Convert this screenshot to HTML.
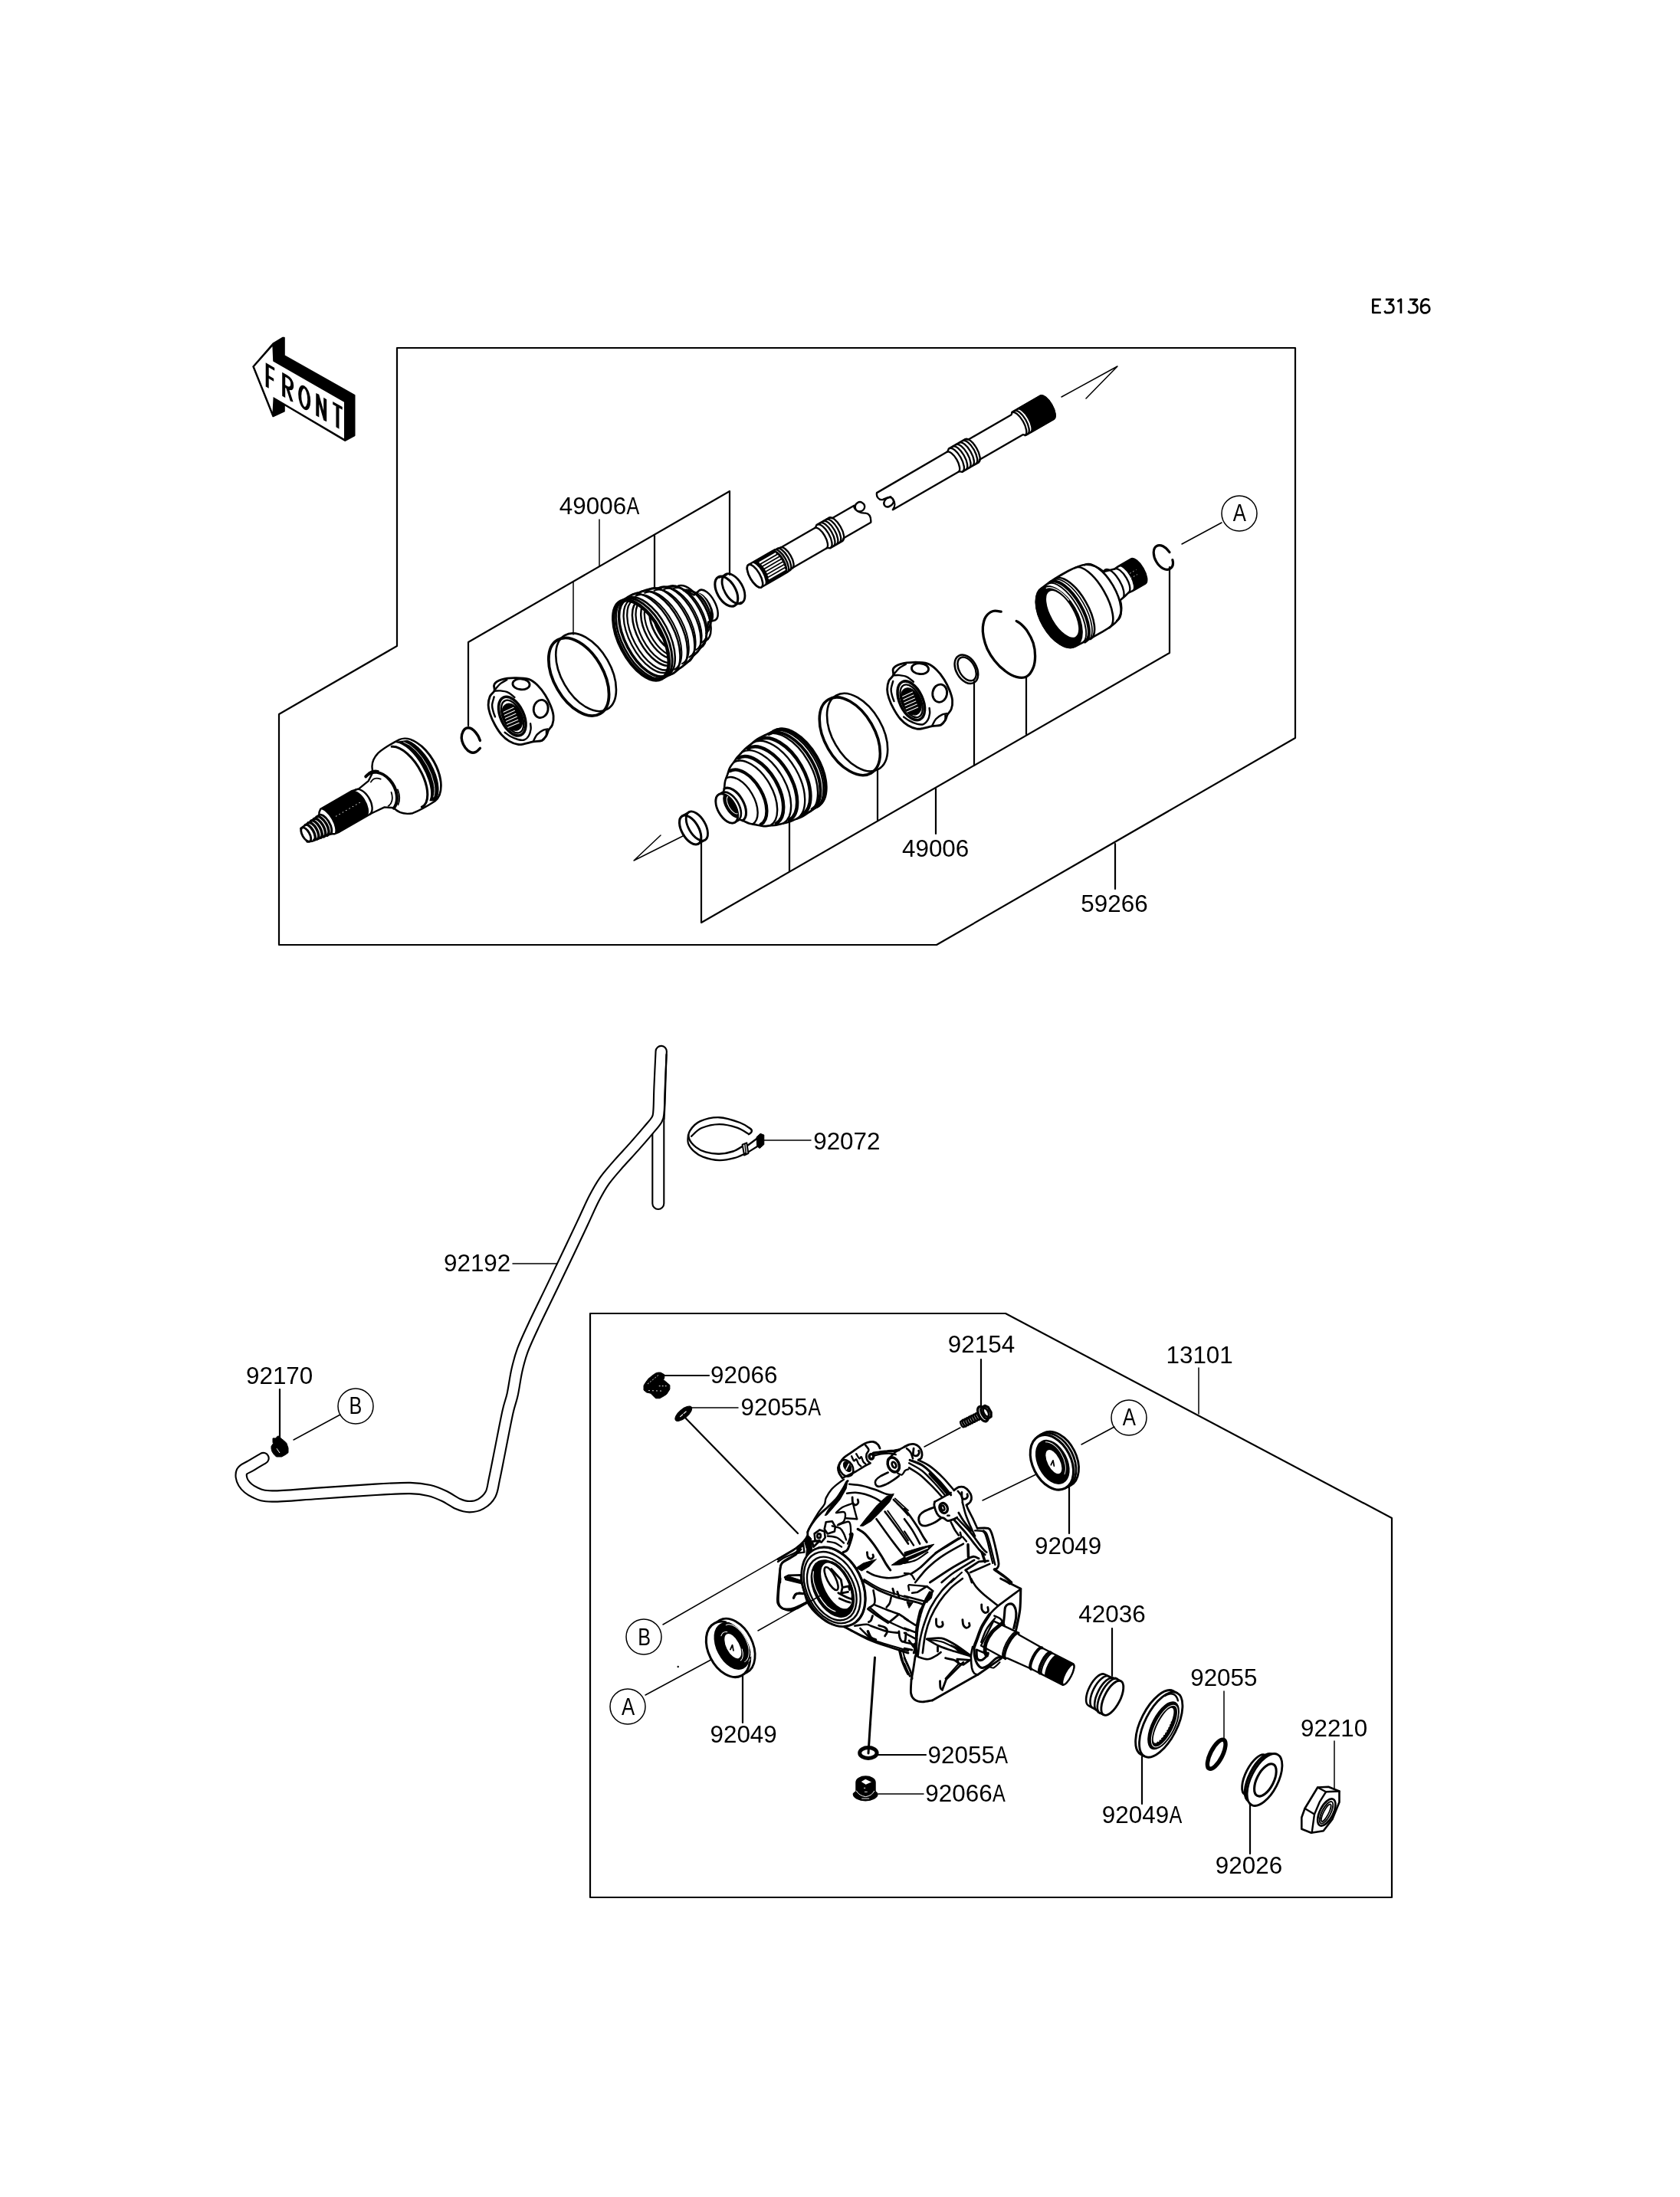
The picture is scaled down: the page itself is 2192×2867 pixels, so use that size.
<!DOCTYPE html>
<html><head><meta charset="utf-8"><title>E3136</title>
<style>
html,body{margin:0;padding:0;background:#fff;}
body{width:2192px;height:2867px;overflow:hidden;}
svg{display:block;will-change:transform;}
text{font-family:"Liberation Sans",sans-serif;font-size:31.4px;fill:#000;}
.l{fill:none;stroke:#000;stroke-width:2.2;stroke-linecap:round;stroke-linejoin:round;}
.t{fill:none;stroke:#000;stroke-width:1.5;stroke-linecap:round;stroke-linejoin:round;}
.h{fill:none;stroke:#000;stroke-width:3;stroke-linecap:round;stroke-linejoin:round;}
.w{fill:#fff;stroke:#000;stroke-width:2;stroke-linecap:round;stroke-linejoin:round;}
.L{stroke-width:2.4;}
.T{stroke-width:1.8;}
.k{fill:#000;stroke:#000;stroke-width:1;stroke-linejoin:round;}
</style></head><body>
<svg width="2192" height="2867" viewBox="0 0 2192 2867">
<rect width="2192" height="2867" fill="#fff"/>
<!-- 00_frame.svg -->
<g id="frame">
<path class="l" d="M518 454H1690V963L1222 1233H364V932L518 843Z"/>
<path class="l" d="M770 1714H1312L1816 1981V2476H770Z"/>
<!-- 49006A bracket -->
<path class="l" d="M611 947V838L952 641V750"/>
<path class="t" d="M782 678V739"/>
<path class="l" d="M854 699V768"/>
<path class="t" d="M748 759V828"/>
<!-- 49006 bracket -->
<path class="l" d="M915 1099V1204L1526 852V740"/>
<path class="l" d="M1030 1073V1137"/>
<path class="l" d="M1145 1005V1070"/>
<path class="l" d="M1271 889V999"/>
<path class="l" d="M1339 883V958"/>
<path class="l" d="M1221 1029V1088"/>
<path class="l" d="M1455 1101V1160"/>
<!-- arrows -->
<path class="t" d="M1385 518L1458 478L1417 520"/>
<path class="t" d="M893 1090L827 1123L862 1090"/>
<!-- A top -->
<circle class="t" cx="1617" cy="670" r="23"/>
<path class="t" d="M1542 710L1594 682"/>
</g>
<g id="labels">
<text x="729.8" y="670.8">49006</text><text transform="translate(817.5 670.8) scale(0.8 1)">A</text>
<text x="1177.0" y="1118.2">49006</text>
<text x="1410.3" y="1189.5">59266</text>
<text x="1061.2" y="1499.5">92072</text>
<text x="579.0" y="1659.4">92192</text>
<text x="321.0" y="1805.8">92170</text>
<text x="1236.8" y="1765.1">92154</text>
<text x="1521.5" y="1778.8">13101</text>
<text x="927.1" y="1805.0">92066</text>
<text x="966.5" y="1847.3">92055</text><text transform="translate(1054.2 1847.3) scale(0.8 1)">A</text>
<text x="1350.0" y="2028.3">92049</text>
<text x="1407.3" y="2117.0">42036</text>
<text x="1553.2" y="2200.3">92055</text>
<text x="1697.0" y="2265.8">92210</text>
<text x="1437.8" y="2379.3">92049</text><text transform="translate(1525.5 2379.3) scale(0.8 1)">A</text>
<text x="1585.8" y="2444.8">92026</text>
<text x="1210.6" y="2300.7">92055</text><text transform="translate(1298.3 2300.7) scale(0.8 1)">A</text>
<text x="1207.3" y="2351.1">92066</text><text transform="translate(1295.0 2351.1) scale(0.8 1)">A</text>
<text x="926.5" y="2274.2">92049</text>
</g>
<g id="leaders">
<path class="t" d="M669 1649H731"/>
<path class="l" d="M365 1813V1879"/>
<circle class="t" cx="464" cy="1835" r="23"/>
<path class="t" d="M383 1879L444 1846"/>
<path class="t" d="M997 1488H1058"/>
<path class="l" d="M1280 1774V1834"/>
<path class="t" d="M1564 1785V1845"/>
<path class="l" d="M861 1795H925"/>
<path class="t" d="M897 1837H963"/>
<path class="l" d="M891 1847L1041 2001"/>
<circle class="t" cx="1473" cy="1850" r="23"/>
<path class="t" d="M1411 1885L1454 1862"/>
<path class="l" d="M1395 1939V2001"/>
<path class="t" d="M1282 1958L1356 1922"/>
<path class="t" d="M1206 1888L1253 1863"/>
<path class="l" d="M1451 2125V2187"/>
<path class="t" d="M1597 2207V2269"/>
<path class="t" d="M1741 2272V2335"/>
<path class="l" d="M1490 2292V2354"/>
<path class="l" d="M1631 2341V2419"/>
<path class="l" d="M1146 2290H1208"/>
<path class="t" d="M1146 2341H1205"/>
<path class="h" d="M1141.5 2163L1135.4 2250"/>
<path class="l" d="M969 2184V2248"/>
<circle class="t" cx="840" cy="2136" r="23"/>
<path class="t" d="M865 2120L1048 2015"/>
<circle class="t" cx="819" cy="2227" r="23"/>
<path class="t" d="M842 2212L935 2162"/>
<path class="t" d="M989 2128L1058 2089"/>
</g>
<!-- 05_code.svg -->
<g id="code">
<path class="l" style="stroke-width:2.7;stroke-linecap:butt;stroke-linejoin:round" d="M1801.8 390.9L1791.4 390.9L1791.4 408.0L1801.8 408.0"/>
<path class="l" style="stroke-width:2.7;stroke-linecap:butt;stroke-linejoin:round" d="M1791.4 399.1L1799.1 399.1"/>
<path class="l" style="stroke-width:2.7;stroke-linecap:butt;stroke-linejoin:round" d="M1807.9 390.9L1817.7 390.9L1811.8 396.6"/>
<path class="l" style="stroke-width:2.7;stroke-linecap:butt;stroke-linejoin:round" d="M1811.8 396.6C1812.4 396.7 1814.7 396.7 1815.7 397.3C1816.8 397.9 1817.6 398.9 1818.0 400.0C1818.4 401.1 1818.5 402.7 1818.2 403.9C1817.9 405.1 1817.2 406.6 1816.3 407.3C1815.4 408.0 1814.2 408.0 1812.9 408.1C1811.5 408.2 1809.3 408.3 1808.2 407.9C1807.1 407.4 1806.7 406.0 1806.4 405.6"/>
<path class="l" style="stroke-width:2.7;stroke-linecap:butt;stroke-linejoin:round" d="M1838.9 390.9L1848.8 390.9L1842.9 396.6"/>
<path class="l" style="stroke-width:2.7;stroke-linecap:butt;stroke-linejoin:round" d="M1842.9 396.6C1843.5 396.7 1845.8 396.7 1846.8 397.3C1847.8 397.9 1848.7 398.9 1849.1 400.0C1849.5 401.1 1849.6 402.7 1849.3 403.9C1849.0 405.1 1848.2 406.6 1847.4 407.3C1846.5 408.0 1845.3 408.0 1843.9 408.1C1842.6 408.2 1840.4 408.3 1839.3 407.9C1838.2 407.4 1837.8 406.0 1837.5 405.6"/>
<path class="l" style="stroke-width:2.7;stroke-linecap:butt;stroke-linejoin:round" d="M1823.4 393.7L1827.9 390.6L1827.9 408.9"/>
<path class="l" style="stroke-width:2.7;stroke-linecap:butt;stroke-linejoin:round" d="M1864.9 392.0C1864.4 391.8 1863.3 390.7 1862.1 390.6C1861.0 390.4 1859.2 390.4 1858.0 391.0C1856.8 391.6 1855.8 392.8 1855.1 394.3C1854.5 395.8 1854.3 398.2 1854.1 400.0C1854.0 401.8 1854.0 403.7 1854.4 405.0C1854.9 406.3 1855.6 407.3 1856.8 407.9C1858.0 408.4 1860.1 408.4 1861.4 408.1C1862.8 407.7 1864.1 406.8 1864.7 405.7C1865.3 404.6 1865.3 402.8 1865.0 401.6C1864.7 400.4 1863.8 399.0 1862.7 398.4C1861.6 397.8 1859.8 397.7 1858.6 398.0C1857.3 398.3 1855.7 400.0 1855.1 400.4"/>
</g>
<!-- 10_front.svg -->
<g id="front">
<path d="M330.3 478.3L356.3 448.3L368.7 440.8H370.8V464.2L462.5 515.8V568.3L450 575L370.8 528V536.7L356.3 543.3Z" fill="#000" stroke="#000" stroke-width="2" stroke-linejoin="round"/>
<path d="M330.8 478.3L356.3 449.5L357.2 470.8L450 524.2V574L357.5 519.7L356.3 542Z" fill="#fff" stroke="#000" stroke-width="2" stroke-linejoin="miter"/>
<g transform="translate(348.7 476.4) skewY(30) scale(1 0.94)" fill="none" stroke="#000" stroke-width="4" stroke-linejoin="miter">
<path d="M0 31V0H9.5M0 15.5H8.5"/>
<path d="M21.5 31V0H26Q32.5 0 32.5 7.5Q32.5 15 26 15H21.5M26 15L32 31"/>
<ellipse cx="48.5" cy="15.5" rx="6" ry="14.5"/>
<path d="M65.6 31V0L75.5 31V0"/>
<path d="M85.5 0H98M91.75 0V31"/>
</g>
</g>
<!-- 20_stub.svg -->
<g id="stub" transform="translate(398.8 1089.3) rotate(-30)">
<!-- silhouette fill white -->
<path class="w L" d="M-1.4 -10.5L28 -13.4L30 -16.6L33.6 -19.4H80L90 -17.2L106 -19.8L117 -27C119 -36 125 -42 135 -45C145 -47 155 -47 168 -46.4A26.7 46.5 0 0 1 168 46.4C155 47 145 47 135 45.5C125 42 119 36 117 27L107 20.3L88.7 18.8H40L33.3 18L28.8 15.5L3 11.5L-3 9Z"/>
<!-- black spline -->
<path d="M33 -19.4H80A10 19.4 0 0 1 82 19H40L33 18A8.8 19.4 0 0 0 33 -19.4Z" fill="#000"/>
<path d="M46 -1H84" stroke="#fff" stroke-width="0.9" stroke-dasharray="1.5 3.5" fill="none"/>
<path class="l L" d="M85 -18.3A10 18.5 0 0 1 86 18.7"/>
<!-- end face -->
<ellipse class="w L" cx="0.5" cy="0" rx="4.7" ry="10.2" style="stroke-width:2.83"/>
<!-- threads -->
<path class="l L" style="stroke-width:3.42" d="M6 -11.3A5 11 0 0 1 6 11.5M10.5 -11.8A5.5 12 0 0 1 10.5 12.5M15 -12.2A5.8 12.6 0 0 1 15 13.3M19.5 -12.6A6 13 0 0 1 19.5 14.2M24 -13A6.2 13.5 0 0 1 24 15"/>
<path class="l L" style="stroke-width:2.83" d="M27.5 -13.4A6.4 14 0 0 1 28.5 15.6"/>
<!-- collar -->
<path class="l L" style="stroke-width:4.01" d="M106 -26.5A20 28 0 0 1 117 27.5"/>
<path class="t T" d="M112 -29A19 27 0 0 1 124 -24.5"/>
<path class="t T" d="M108 -17A13 19 0 0 1 121 -14"/>
<path class="t T" d="M133.5 9A19 26 0 0 1 124 26.5"/>
<path class="t T" d="M124.5 8A13 19 0 0 1 112 21.5"/>
<!-- face arc -->
<path class="l L" style="stroke-width:3.07" d="M154.8 -43.4A21.4 44.5 0 0 1 149.3 44.5"/>
<!-- band -->
<path d="M163 -45.5L176 -40.1A22.4 46 0 0 1 168 45.6L163 42.5A19.6 46 0 0 0 163 -45.5Z" fill="#000" stroke="#000" stroke-width="1.5" stroke-linejoin="round"/>
<path d="M171 -41A21 45 0 0 1 169 41" fill="none" stroke="#fff" stroke-width="0.8"/>
<path class="t T" style="stroke-width:1.53" d="M181 -38A25 46 0 0 1 172 45"/>
</g>
<!-- 30_cage1.svg -->
<g id="cage1">
<path class="l L" style="stroke-width:3.42" d="M626.4 966.4C626.0 965.4 624.9 962.1 623.6 960.0C622.3 957.9 620.4 955.2 618.6 953.6C616.8 951.9 614.9 950.4 612.9 950.0C610.8 949.6 608.1 950.0 606.4 951.4C604.7 952.9 603.2 956.0 602.6 958.6C602.0 961.2 602.1 964.3 602.9 967.1C603.6 970.0 605.4 973.3 607.1 975.7C608.9 978.1 611.3 980.5 613.6 981.4C615.8 982.4 618.6 982.3 620.7 981.4C622.9 980.6 625.5 977.3 626.4 976.4"/>
<path class="w L" style="stroke-width:2.83" d="M645.0 892.9C646.5 890.4 649.9 888.2 654.3 886.9C658.7 885.5 665.5 884.6 671.4 884.6C677.4 884.5 685.0 884.8 690.0 886.4C695.0 888.0 697.9 890.8 701.4 894.3C705.0 897.7 708.6 902.6 711.4 907.1C714.3 911.7 716.8 916.9 718.6 921.4C720.4 926.0 721.8 930.2 722.1 934.3C722.5 938.3 721.8 942.6 720.7 945.7C719.6 948.8 717.0 950.5 715.7 952.9C714.4 955.2 714.3 957.7 712.9 960.0C711.4 962.3 710.0 965.1 707.1 966.4C704.3 967.7 699.5 967.1 695.7 967.9C691.9 968.6 687.6 970.1 684.3 970.7C681.0 971.3 679.0 972.0 675.7 971.4C672.4 970.8 667.9 969.3 664.3 967.1C660.7 965.0 657.4 962.1 654.3 958.6C651.2 955.0 648.2 950.2 645.7 945.7C643.2 941.2 640.7 935.7 639.3 931.4C637.9 927.1 637.1 923.8 637.1 920.0C637.1 916.2 638.0 911.7 639.3 908.6C640.6 905.5 644.0 904.0 645.0 901.4C646.0 898.8 643.5 895.3 645.0 892.9Z"/>
<path class="l L" d="M645.0 901.7C646.3 901.7 649.9 901.1 652.9 901.4C655.8 901.7 659.8 902.1 662.9 903.6C666.0 905.0 670.0 908.9 671.4 910.0"/>
<path class="l L" d="M644.7 909.3C644.3 911.1 642.3 916.8 642.1 920.0C642.0 923.2 642.9 926.0 643.6 928.6C644.2 931.1 645.6 934.3 646.0 935.4"/>
<path class="l L" d="M658.6 955.7C659.8 956.5 662.9 959.2 665.7 960.7C668.6 962.3 672.6 964.2 675.7 965.0C678.8 965.8 681.9 966.3 684.3 965.4C686.7 964.6 688.6 962.3 690.0 960.0C691.4 957.7 692.2 954.0 692.6 951.4C692.9 948.8 692.2 945.5 692.1 944.3"/>
<ellipse class="w L" style="stroke-width:3.54" cx="668.3" cy="934.6" rx="15.0" ry="27.1" transform="rotate(-25 668.3 934.6)"/>
<ellipse class="l L" style="stroke-width:2.36" cx="668.6" cy="935.1" rx="12.1" ry="22.9" transform="rotate(-25 668.6 935.1)"/>
<ellipse class="k" cx="668.3" cy="935.7" rx="12.0" ry="18.6" transform="rotate(-25 668.3 935.7)"/>
<path class="t T" style="stroke:#fff;stroke-width:1.18" d="M657.1 929.3L670.0 923.3"/>
<path class="t T" style="stroke:#fff;stroke-width:1.18" d="M658.3 933.3L671.4 927.3"/>
<path class="t T" style="stroke:#fff;stroke-width:1.18" d="M659.4 937.3L672.9 931.3"/>
<path class="t T" style="stroke:#fff;stroke-width:1.18" d="M660.6 941.3L674.3 935.3"/>
<path class="t T" style="stroke:#fff;stroke-width:1.18" d="M661.7 945.3L675.7 939.3"/>
<path class="t T" style="stroke:#fff;stroke-width:1.18" d="M662.9 949.3L677.1 943.3"/>
<ellipse class="l L" style="stroke-width:2.83" cx="680.0" cy="892.9" rx="11.1" ry="6.9" transform="rotate(5 680.0 892.9)"/>
<ellipse class="l L" style="stroke-width:2.83" cx="705.7" cy="925.0" rx="9.4" ry="11.7" transform="rotate(10 705.7 925.0)"/>
<path class="l L" d="M695.7 967.4C696.5 966.0 698.6 961.0 700.7 958.6C702.9 956.1 706.3 954.0 708.6 952.9C710.9 951.7 713.6 951.7 714.6 951.4"/>
<path class="l L" d="M712.9 953.6C712.8 954.6 713.5 957.9 712.6 960.0C711.6 962.1 708.0 965.4 707.1 966.4"/>
<path class="l L" d="M646.4 899.3C647.5 898.1 650.4 894.2 652.9 892.1C655.4 890.1 660.0 888.0 661.4 887.1"/>
</g>
<!-- 31_band1.svg -->
<g id="band1">
<ellipse class="l L" style="stroke-width:2.60" cx="764.6" cy="877.3" rx="32.2" ry="55.6" transform="rotate(-30 764.6 877.3)"/>
<ellipse class="l L" style="stroke-width:3.78" cx="755.2" cy="883.3" rx="32.2" ry="55.6" transform="rotate(-30 755.2 883.3)"/>
</g>
<!-- 32_boot1.svg -->
<g id="boot1" transform="translate(836.5 835.3) rotate(-27.8) scale(0.94 1)">
<defs><clipPath id="b1c"><ellipse cx="0" cy="0" rx="29.6" ry="57"/></clipPath></defs>
<path class="w L" style="stroke-width:2.60" d="M0.0 -57.0C1.7 -57.1 7.0 -57.4 10.0 -57.6C13.0 -57.7 14.7 -58.3 18.0 -58.0C21.3 -57.7 26.0 -56.7 30.0 -56.0C34.0 -55.3 38.0 -55.0 42.0 -54.0C46.0 -53.0 50.0 -51.3 54.0 -50.0C58.0 -48.7 62.8 -47.2 66.0 -46.0C69.2 -44.8 70.8 -43.8 73.0 -42.8C75.2 -41.8 77.2 -41.5 79.0 -40.0C80.8 -38.5 82.3 -35.7 84.0 -33.5C85.7 -31.3 87.3 -29.2 89.0 -27.0C90.7 -24.8 93.2 -21.2 94.0 -20.0L94 -20L104 -22A11 22 0 0 1 104 22L94 20L94.0 20.0C93.2 21.2 90.7 24.8 89.0 27.0C87.3 29.2 85.7 31.3 84.0 33.5C82.3 35.7 80.8 38.5 79.0 40.0C77.2 41.5 75.2 41.8 73.0 42.8C70.8 43.8 69.2 44.8 66.0 46.0C62.8 47.2 58.0 48.7 54.0 50.0C50.0 51.3 46.0 53.0 42.0 54.0C38.0 55.0 34.0 55.3 30.0 56.0C26.0 56.7 21.3 57.7 18.0 58.0C14.7 58.3 13.0 57.7 10.0 57.6C7.0 57.4 1.7 57.1 0.0 57.0A29.6 57 0 0 1 0 -57Z"/>
<path d="M94 -20L99 -21A11 21.5 0 0 1 99 21.5L94 20A10 20 0 0 0 94 -20Z" fill="#000"/>
<path d="M100.5 -19A9 19 0 0 1 103 10" fill="none" stroke="#fff" stroke-width="1"/>
<path class="l L" style="stroke-width:3.07" d="M5 -57.3A29.8 57.3 0 0 1 5 57.3"/>
<path class="l L" style="stroke-width:2.60" d="M10 -56.6A29.4 56.6 0 0 1 10 56.6"/>
<path class="l L" style="stroke-width:2.60" d="M17 -57.9A30.1 57.9 0 0 1 17 57.9"/>
<path class="l L" style="stroke-width:2.12" d="M22 -54.3A28.3 54.3 0 0 1 22 54.3"/>
<path class="l L" style="stroke-width:2.60" d="M30 -56.0A29.1 56.0 0 0 1 30 56.0"/>
<path class="l L" style="stroke-width:2.12" d="M35 -52.2A27.1 52.2 0 0 1 35 52.2"/>
<path class="l L" style="stroke-width:2.60" d="M43 -53.7A27.9 53.7 0 0 1 43 53.7"/>
<path class="l L" style="stroke-width:2.12" d="M48 -49.0A25.5 49.0 0 0 1 48 49.0"/>
<path class="l L" style="stroke-width:2.60" d="M56 -49.3A25.7 49.3 0 0 1 56 49.3"/>
<path class="l L" style="stroke-width:2.12" d="M61 -44.7A23.2 44.7 0 0 1 61 44.7"/>
<path class="l L" style="stroke-width:2.60" d="M68 -45.1A23.4 45.1 0 0 1 68 45.1"/>
<path class="l L" style="stroke-width:2.12" d="M73 -39.8A20.7 39.8 0 0 1 73 39.8"/>
<path class="l L" style="stroke-width:2.60" d="M79 -40.0A20.8 40.0 0 0 1 79 40.0"/>
<path class="l L" style="stroke-width:2.12" d="M84 -31.5A16.4 31.5 0 0 1 84 31.5"/>
<path class="l L" style="stroke-width:2.60" d="M89 -27.0A14.0 27.0 0 0 1 89 27.0"/>
<g clip-path="url(#b1c)">
<ellipse cx="0" cy="0" rx="29.6" ry="57" fill="#fff"/>
<ellipse cx="50" cy="0" rx="15" ry="29" fill="#000"/>
<path class="l L" style="stroke-width:2.36" d="M44 -33.0A17.2 33.0 0 0 0 44 33.0"/>
<path class="l L" style="stroke-width:2.83" d="M40 -35.0A18.2 35.0 0 0 0 40 35.0"/>
<path class="l L" style="stroke-width:2.36" d="M35 -39.0A20.3 39.0 0 0 0 35 39.0"/>
<path class="l L" style="stroke-width:2.60" d="M31 -41.0A21.3 41.0 0 0 0 31 41.0"/>
<path class="l L" style="stroke-width:2.36" d="M26 -45.0A23.4 45.0 0 0 0 26 45.0"/>
<path class="l L" style="stroke-width:2.60" d="M22 -47.0A24.4 47.0 0 0 0 22 47.0"/>
<path class="l L" style="stroke-width:2.36" d="M17 -51.0A26.5 51.0 0 0 0 17 51.0"/>
<path class="l L" style="stroke-width:2.36" d="M13 -53.0A27.6 53.0 0 0 0 13 53.0"/>
<path class="l L" style="stroke-width:3.78" d="M8 -56.0A29.1 56.0 0 0 0 8 56.0"/>
<path class="l L" style="stroke-width:2.83" d="M4 -57.0A29.6 57.0 0 0 0 4 57.0"/>
</g>
<ellipse cx="0" cy="0" rx="29.6" ry="57" class="l L" style="stroke-width:4.72"/>
</g>
<!-- 34_shaft.svg -->
<g id="ring1">
<ellipse class="l L" style="stroke-width:2.83" cx="957" cy="768.3" rx="12" ry="21.5" transform="rotate(-30 957 768.3)"/>
<ellipse class="w L" style="stroke-width:3.07;fill:none" cx="947.8" cy="771.7" rx="12" ry="21.5" transform="rotate(-30 947.8 771.7)"/>
<path class="l L" d="M938.5 753.5L948 750M958.5 790L967 786"/>
</g>
<g id="shaft" transform="translate(985 751.7) rotate(-30)">
<path class="w L" style="stroke-width:2.36" d="M0 -16.9H37L48 -15.3H100L103 -17.5H122L125 -15H158C156 -13 156 -6 162 -4C168 -3 172 -8 169 -13C167 -17 160 -17 158 -12C156 -8 160 -2 166 1C170 4 170 9 166 15H125L122 17.5H103L100 15.3H48L37 16.9H0A6.6 16.9 0 0 1 0 -16.9Z"/>
<path d="M4 -16.9H37A6.8 16.9 0 0 1 37 16.9H4A6.6 16.9 0 0 0 4 -16.9Z" fill="#000"/>
<path d="M13.6 -12L38.6 -12" stroke="#fff" stroke-width="2.3" fill="none"/>
<path d="M14.8 -8L39.8 -8" stroke="#fff" stroke-width="2.3" fill="none"/>
<path d="M15.4 -4L40.4 -4" stroke="#fff" stroke-width="2.3" fill="none"/>
<path d="M15.6 0L40.6 0" stroke="#fff" stroke-width="2.3" fill="none"/>
<path d="M15.4 4L40.4 4" stroke="#fff" stroke-width="2.3" fill="none"/>
<path d="M14.8 8L39.8 8" stroke="#fff" stroke-width="2.3" fill="none"/>
<path d="M13.6 12L38.6 12" stroke="#fff" stroke-width="2.3" fill="none"/>
<ellipse class="w L" style="stroke-width:2.60" cx="0" cy="0" rx="6.6" ry="16.9"/>
<path class="l L" style="stroke-width:2.36" d="M39 -16.9A6.8 16.9 0 0 1 39 16.9"/>
<path class="l L" style="stroke-width:2.36" d="M43 -16.5A6.6 16.5 0 0 1 43 16.5"/>
<path class="l L" style="stroke-width:2.36" d="M47.5 -15.5A6.2 15.5 0 0 1 47.5 15.5"/>
<path class="l L" style="stroke-width:2.36" d="M104 -17.3A6.9 17.3 0 0 1 104 17.3"/>
<path class="l L" style="stroke-width:2.36" d="M108.5 -17.3A6.9 17.3 0 0 1 108.5 17.3"/>
<path class="l L" style="stroke-width:2.36" d="M113 -17.3A6.9 17.3 0 0 1 113 17.3"/>
<path class="l L" style="stroke-width:2.36" d="M117.5 -17.3A6.9 17.3 0 0 1 117.5 17.3"/>
<path class="l L" style="stroke-width:2.36" d="M122 -17.3A6.9 17.3 0 0 1 122 17.3"/>
<path class="l L" style="stroke-width:2.36" d="M99 -15.3A6.1 15.3 0 0 1 99 15.3"/>
<path class="w L" style="stroke-width:2.36" d="M192 -14.5C189 -11 189 -5 194 -3C199 -2 205 -3 206 2C207 8 204 13 199 15H299L302 17.5H327L330 15H395L398 17.5H440A7 17.5 0 0 0 440 -17.5H398L395 -15H330L327 -17.5H302L299 -15Z"/>
<path class="l L" d="M206 2C207 7 202 10 197 9C192 8 191 3 195 0C198 -2 202 -2 205 -1"/>
<path class="l L" style="stroke-width:2.36" d="M303 -17.3A6.9 17.3 0 0 1 303 17.3"/>
<path class="l L" style="stroke-width:2.36" d="M308 -17.3A6.9 17.3 0 0 1 308 17.3"/>
<path class="l L" style="stroke-width:2.36" d="M313 -17.3A6.9 17.3 0 0 1 313 17.3"/>
<path class="l L" style="stroke-width:2.36" d="M318 -17.3A6.9 17.3 0 0 1 318 17.3"/>
<path class="l L" style="stroke-width:2.36" d="M323 -17.3A6.9 17.3 0 0 1 323 17.3"/>
<path class="l L" style="stroke-width:2.36" d="M327 -17.3A6.9 17.3 0 0 1 327 17.3"/>
<path class="l L" style="stroke-width:2.36" d="M298 -15A6.0 15 0 0 1 298 15"/>
<path class="l L" style="stroke-width:2.36" d="M397 -17.3A6.9 17.3 0 0 1 397 17.3"/>
<path class="l L" style="stroke-width:2.36" d="M401 -17.3A6.9 17.3 0 0 1 401 17.3"/>
<path d="M405 -17.5H440A7 17.5 0 0 1 440 17.5H405A7 17.5 0 0 0 405 -17.5Z" fill="#000" stroke="#000" stroke-width="2"/>
</g>
<!-- 40_boot2.svg -->
<g id="ring2" transform="translate(905 1080.5) rotate(-30)">
<ellipse class="l L" style="stroke-width:2.83" cx="5" cy="0" rx="11" ry="21"/>
<ellipse class="l L" style="stroke-width:3.07" cx="-5" cy="0" rx="11" ry="21"/>
<path class="l L" d="M-5 -21H5M-5 21H5"/>
</g>
<g id="boot2" transform="translate(948.3 1055) rotate(-30)">
<path class="w L" style="stroke-width:2.60" d="M0 -21L7 -21L7.0 -21.0C7.5 -21.5 8.5 -22.2 10.0 -24.0C11.5 -25.8 13.8 -29.7 16.0 -32.0C18.2 -34.3 20.7 -36.0 23.0 -38.0C25.3 -40.0 27.5 -42.4 30.0 -44.0C32.5 -45.6 35.5 -46.6 38.0 -47.7C40.5 -48.9 42.7 -50.1 45.0 -51.0C47.3 -51.9 49.5 -52.4 52.0 -53.1C54.5 -53.9 57.0 -54.9 60.0 -55.5C63.0 -56.1 66.7 -56.5 70.0 -57.0C73.3 -57.5 76.3 -58.4 80.0 -58.5C83.7 -58.6 87.8 -58.0 92.0 -57.8C96.2 -57.5 102.8 -57.1 105.0 -57.0A31 57 0 0 1 105 57L105.0 57.0C102.8 57.1 96.2 57.5 92.0 57.8C87.8 58.0 83.7 58.6 80.0 58.5C76.3 58.4 73.3 57.5 70.0 57.0C66.7 56.5 63.0 56.1 60.0 55.5C57.0 54.9 54.5 53.9 52.0 53.1C49.5 52.4 47.3 51.9 45.0 51.0C42.7 50.1 40.5 48.9 38.0 47.7C35.5 46.6 32.5 45.6 30.0 44.0C27.5 42.4 25.3 40.0 23.0 38.0C20.7 36.0 18.2 34.3 16.0 32.0C13.8 29.7 11.5 25.8 10.0 24.0C8.5 22.2 7.5 21.5 7.0 21.0L0 21A11 21 0 0 1 0 -21Z"/>
<path class="l L" style="stroke-width:2.60" d="M5 -20.7A11.4 20.7 0 0 1 5 20.7"/>
<path class="l L" style="stroke-width:3.07" d="M10 -24.0A13.2 24.0 0 0 1 10 24.0"/>
<path class="l L" style="stroke-width:2.36" d="M19 -34.6A19.0 34.6 0 0 1 19 34.6"/>
<path class="l L" style="stroke-width:4.25" d="M28 -40.3A22.2 40.3 0 0 1 28 40.3"/>
<path class="l L" style="stroke-width:2.36" d="M38 -47.7A26.3 47.7 0 0 1 38 47.7"/>
<path class="l L" style="stroke-width:4.48" d="M46 -49.3A27.1 49.3 0 0 1 46 49.3"/>
<path class="l L" style="stroke-width:2.36" d="M54 -53.7A29.5 53.7 0 0 1 54 53.7"/>
<path class="l L" style="stroke-width:4.48" d="M63 -54.0A29.7 54.0 0 0 1 63 54.0"/>
<path class="l L" style="stroke-width:2.36" d="M72 -57.3A31.5 57.3 0 0 1 72 57.3"/>
<path class="l L" style="stroke-width:4.48" d="M81 -56.4A31.0 56.4 0 0 1 81 56.4"/>
<path class="l L" style="stroke-width:2.36" d="M91 -57.8A31.8 57.8 0 0 1 91 57.8"/>
<path class="l L" style="stroke-width:4.01" d="M96 -56.5A31.1 56.5 0 0 1 96 56.5"/>
<path class="l L" style="stroke-width:2.36" d="M100 -57.3A31.5 57.3 0 0 1 100 57.3"/>
<path class="l L" style="stroke-width:3.54" d="M103 -57.1A31.4 57.1 0 0 1 103 57.1"/>
<ellipse class="w L" style="stroke-width:2.83" cx="0" cy="0" rx="11.5" ry="21"/>
<clipPath id="b2c"><ellipse cx="0" cy="0" rx="11.5" ry="21"/></clipPath>
<g clip-path="url(#b2c)"><ellipse cx="9" cy="0" rx="10" ry="19" fill="#000"/><ellipse cx="9.5" cy="0" rx="6" ry="13" fill="none" stroke="#fff" stroke-width="1"/></g>
</g>
<!-- 42_row2mid.svg -->
<g id="band2">
<ellipse class="l L" style="stroke-width:2.60" cx="1118.6" cy="955.6" rx="32.6" ry="55.5" transform="rotate(-30 1118.6 955.6)"/>
<ellipse class="l L" style="stroke-width:3.54" cx="1108.8" cy="960.8" rx="32.6" ry="55.5" transform="rotate(-30 1108.8 960.8)"/>
</g>
<g id="cage2" transform="translate(520.5 -20.3)">
<path class="w L" style="stroke-width:2.83" d="M645.0 892.9C646.5 890.4 649.9 888.2 654.3 886.9C658.7 885.5 665.5 884.6 671.4 884.6C677.4 884.5 685.0 884.8 690.0 886.4C695.0 888.0 697.9 890.8 701.4 894.3C705.0 897.7 708.6 902.6 711.4 907.1C714.3 911.7 716.8 916.9 718.6 921.4C720.4 926.0 721.8 930.2 722.1 934.3C722.5 938.3 721.8 942.6 720.7 945.7C719.6 948.8 717.0 950.5 715.7 952.9C714.4 955.2 714.3 957.7 712.9 960.0C711.4 962.3 710.0 965.1 707.1 966.4C704.3 967.7 699.5 967.1 695.7 967.9C691.9 968.6 687.6 970.1 684.3 970.7C681.0 971.3 679.0 972.0 675.7 971.4C672.4 970.8 667.9 969.3 664.3 967.1C660.7 965.0 657.4 962.1 654.3 958.6C651.2 955.0 648.2 950.2 645.7 945.7C643.2 941.2 640.7 935.7 639.3 931.4C637.9 927.1 637.1 923.8 637.1 920.0C637.1 916.2 638.0 911.7 639.3 908.6C640.6 905.5 644.0 904.0 645.0 901.4C646.0 898.8 643.5 895.3 645.0 892.9Z"/>
<path class="l L" d="M645.0 901.7C646.3 901.7 649.9 901.1 652.9 901.4C655.8 901.7 659.8 902.1 662.9 903.6C666.0 905.0 670.0 908.9 671.4 910.0"/>
<path class="l L" d="M644.7 909.3C644.3 911.1 642.3 916.8 642.1 920.0C642.0 923.2 642.9 926.0 643.6 928.6C644.2 931.1 645.6 934.3 646.0 935.4"/>
<path class="l L" d="M658.6 955.7C659.8 956.5 662.9 959.2 665.7 960.7C668.6 962.3 672.6 964.2 675.7 965.0C678.8 965.8 681.9 966.3 684.3 965.4C686.7 964.6 688.6 962.3 690.0 960.0C691.4 957.7 692.2 954.0 692.6 951.4C692.9 948.8 692.2 945.5 692.1 944.3"/>
<ellipse class="w L" style="stroke-width:3.54" cx="668.3" cy="934.6" rx="15.0" ry="27.1" transform="rotate(-25 668.3 934.6)"/>
<ellipse class="l L" style="stroke-width:2.36" cx="668.6" cy="935.1" rx="12.1" ry="22.9" transform="rotate(-25 668.6 935.1)"/>
<ellipse class="k" cx="668.3" cy="935.7" rx="12.0" ry="18.6" transform="rotate(-25 668.3 935.7)"/>
<path class="t T" style="stroke:#fff;stroke-width:1.18" d="M657.1 929.3L670.0 923.3"/>
<path class="t T" style="stroke:#fff;stroke-width:1.18" d="M658.3 933.3L671.4 927.3"/>
<path class="t T" style="stroke:#fff;stroke-width:1.18" d="M659.4 937.3L672.9 931.3"/>
<path class="t T" style="stroke:#fff;stroke-width:1.18" d="M660.6 941.3L674.3 935.3"/>
<path class="t T" style="stroke:#fff;stroke-width:1.18" d="M661.7 945.3L675.7 939.3"/>
<path class="t T" style="stroke:#fff;stroke-width:1.18" d="M662.9 949.3L677.1 943.3"/>
<ellipse class="l L" style="stroke-width:2.83" cx="680.0" cy="892.9" rx="11.1" ry="6.9" transform="rotate(5 680.0 892.9)"/>
<ellipse class="l L" style="stroke-width:2.83" cx="705.7" cy="925.0" rx="9.4" ry="11.7" transform="rotate(10 705.7 925.0)"/>
<path class="l L" d="M695.7 967.4C696.5 966.0 698.6 961.0 700.7 958.6C702.9 956.1 706.3 954.0 708.6 952.9C710.9 951.7 713.6 951.7 714.6 951.4"/>
<path class="l L" d="M712.9 953.6C712.8 954.6 713.5 957.9 712.6 960.0C711.6 962.1 708.0 965.4 707.1 966.4"/>
<path class="l L" d="M646.4 899.3C647.5 898.1 650.4 894.2 652.9 892.1C655.4 890.1 660.0 888.0 661.4 887.1"/>
</g>
<g id="oring2">
<ellipse class="l L" style="stroke-width:2.48" cx="1260.9" cy="873.3" rx="13.3" ry="20.2" transform="rotate(-30 1260.9 873.3)"/>
<ellipse class="l L" style="stroke-width:2.48" cx="1261.6" cy="872.9" rx="10.2" ry="16.8" transform="rotate(-30 1261.6 872.9)"/>
</g>
<g id="circlip2">
<path class="l L" style="stroke-width:3.30" d="M1306.2 798.1C1304.4 798.0 1299.0 796.4 1295.7 797.5C1292.4 798.6 1288.4 801.3 1286.2 804.8C1284.0 808.2 1282.9 813.7 1282.4 818.1C1281.9 822.5 1282.4 826.7 1283.3 831.4C1284.3 836.2 1285.7 841.6 1288.1 846.7C1290.5 851.7 1293.8 857.1 1297.6 861.9C1301.4 866.7 1306.2 871.7 1311.0 875.2C1315.7 878.8 1321.4 882.2 1326.2 883.4C1331.0 884.7 1335.9 884.9 1339.5 882.9C1343.2 880.9 1346.3 875.9 1348.1 871.4C1349.9 867.0 1350.6 861.6 1350.6 856.2C1350.6 850.8 1349.8 844.4 1348.1 839.0C1346.4 833.7 1343.2 827.9 1340.5 823.8C1337.8 819.7 1334.3 816.5 1331.9 814.3C1329.5 812.1 1327.1 811.1 1326.2 810.5"/>
</g>
<!-- 44_housing.svg -->
<g id="housing" transform="translate(1381.8 805.1) rotate(-30)">
<path class="w L" style="stroke-width:2.60" d="M0 -44C10 -45.5 25 -46.5 40 -46C50 -45.5 58 -45 64 -42C72 -38 77 -30 80 -22L94 -18L100 -18.5H119A7.5 18.5 0 0 1 119 18.5H100L94 18L88 19.5L80 21C78 30 72 38 64 42C58 44.5 50 45 40 45C25 45 10 44.5 0 44A23.6 44 0 0 1 0 -44Z"/>
<path d="M100 -18.5H119A7.5 18.5 0 0 1 119 18.5H100A7.5 18.5 0 0 0 100 -18.5Z" fill="#000" stroke="#000" stroke-width="1.5"/>
<path d="M104 -3H118M106 3H116" stroke="#fff" stroke-width="0.8" stroke-dasharray="1.5 3" fill="none"/>
<path class="l L" style="stroke-width:2.36" d="M94 -18A7.6 18 0 0 1 94 18"/>
<path class="l L" style="stroke-width:2.60" d="M50 -45A17.6 45 0 0 1 50 45"/>
<path class="l L" style="stroke-width:2.60" d="M63 -42A18.5 42 0 0 1 63 42"/>
<path class="l L" d="M80 -22A9 22 0 0 1 86 19.5"/>
<path class="l L" style="stroke-width:1.89" d="M9 -44.5A18.7 44.5 0 0 1 9 44.5"/>
<path class="l L" style="stroke-width:4.01" d="M13 -45A18.9 45 0 0 1 13 45"/>
<path class="l L" style="stroke-width:1.65" d="M17.5 -45.3A19.0 45.3 0 0 1 17.5 45.3"/>
<path class="l L" style="stroke-width:2.60" d="M21 -45.5A19.1 45.5 0 0 1 21 45.5"/>
<path d="M0 -44A23.6 44 0 0 1 0 44A23.6 44 0 0 1 0 -44ZM5.6 -36A15.5 35 0 0 0 5.6 34A15.5 35 0 0 0 5.6 -36Z" fill="#000" fill-rule="evenodd" stroke="#000" stroke-width="2"/>
<path d="M4 -41A20 41 0 0 1 22 -12" fill="none" stroke="#fff" stroke-width="1.2"/>
</g>
<g id="snap2" transform="translate(1381.8 805.1) rotate(-30)">
<path class="l L" style="stroke-width:3.19" d="M167 -1C166.5 -10 162 -16.5 156.5 -16.5C151 -16.5 146 -9 146 1C146 10.5 151 18 156.5 18C160.5 18 164 15 165.5 9.5"/>
</g>
<!-- 50_hose.svg -->
<g id="hose">
<path d="M851.3 1468V1570.5a7.5 7.5 0 0 0 15 0V1462" fill="#fff" stroke="#000" stroke-width="2.1"/>
<path d="M343.5 1903.0C340.8 1904.6 332.2 1909.6 327.5 1912.5C322.8 1915.4 317.2 1916.8 315.5 1920.5C313.8 1924.2 314.7 1930.5 317.5 1935.0C320.3 1939.5 326.2 1944.6 332.5 1947.5C338.8 1950.4 341.2 1952.3 355.0 1952.5C368.8 1952.7 392.5 1950.2 415.0 1948.8C437.5 1947.3 470.0 1944.9 490.0 1943.8C510.0 1942.6 523.3 1941.8 535.0 1942.0C546.7 1942.2 552.5 1943.2 560.0 1945.0C567.5 1946.8 573.8 1949.6 580.0 1952.5C586.2 1955.4 592.1 1960.2 597.5 1962.5C602.9 1964.8 607.5 1966.2 612.5 1966.2C617.5 1966.2 622.9 1965.2 627.5 1962.5C632.1 1959.8 637.1 1955.4 640.0 1950.0C642.9 1944.6 642.9 1939.6 645.0 1930.0C647.1 1920.4 649.6 1907.1 652.5 1892.5C655.4 1877.9 659.8 1854.6 662.5 1842.5C665.2 1830.4 666.6 1829.0 668.6 1820.0C670.6 1811.0 672.1 1798.3 674.3 1788.6C676.5 1778.9 678.1 1772.1 681.9 1761.9C685.7 1751.7 690.4 1741.9 697.1 1727.6C703.8 1713.3 714.3 1692.1 721.9 1676.2C729.5 1660.3 736.5 1645.7 742.9 1632.4C749.2 1619.1 754.6 1607.6 760.0 1596.2C765.4 1584.8 770.4 1573.0 775.2 1563.8C780.0 1554.6 783.2 1548.6 788.6 1541.0C794.0 1533.4 801.2 1525.4 807.6 1518.1C814.0 1510.8 820.5 1504.1 826.7 1497.1C832.9 1490.1 840.0 1482.0 845.0 1476.0C850.0 1470.0 854.6 1465.3 857.0 1461.0C859.4 1456.7 858.9 1456.8 859.5 1450.0C860.1 1443.2 860.0 1433.0 860.5 1420.0C861.0 1407.0 862.3 1380.0 862.7 1372.0" fill="none" stroke="#000" stroke-width="16.4" stroke-linecap="round" stroke-linejoin="round"/>
<path d="M343.5 1903.0C340.8 1904.6 332.2 1909.6 327.5 1912.5C322.8 1915.4 317.2 1916.8 315.5 1920.5C313.8 1924.2 314.7 1930.5 317.5 1935.0C320.3 1939.5 326.2 1944.6 332.5 1947.5C338.8 1950.4 341.2 1952.3 355.0 1952.5C368.8 1952.7 392.5 1950.2 415.0 1948.8C437.5 1947.3 470.0 1944.9 490.0 1943.8C510.0 1942.6 523.3 1941.8 535.0 1942.0C546.7 1942.2 552.5 1943.2 560.0 1945.0C567.5 1946.8 573.8 1949.6 580.0 1952.5C586.2 1955.4 592.1 1960.2 597.5 1962.5C602.9 1964.8 607.5 1966.2 612.5 1966.2C617.5 1966.2 622.9 1965.2 627.5 1962.5C632.1 1959.8 637.1 1955.4 640.0 1950.0C642.9 1944.6 642.9 1939.6 645.0 1930.0C647.1 1920.4 649.6 1907.1 652.5 1892.5C655.4 1877.9 659.8 1854.6 662.5 1842.5C665.2 1830.4 666.6 1829.0 668.6 1820.0C670.6 1811.0 672.1 1798.3 674.3 1788.6C676.5 1778.9 678.1 1772.1 681.9 1761.9C685.7 1751.7 690.4 1741.9 697.1 1727.6C703.8 1713.3 714.3 1692.1 721.9 1676.2C729.5 1660.3 736.5 1645.7 742.9 1632.4C749.2 1619.1 754.6 1607.6 760.0 1596.2C765.4 1584.8 770.4 1573.0 775.2 1563.8C780.0 1554.6 783.2 1548.6 788.6 1541.0C794.0 1533.4 801.2 1525.4 807.6 1518.1C814.0 1510.8 820.5 1504.1 826.7 1497.1C832.9 1490.1 840.0 1482.0 845.0 1476.0C850.0 1470.0 854.6 1465.3 857.0 1461.0C859.4 1456.7 858.9 1456.8 859.5 1450.0C860.1 1443.2 860.0 1433.0 860.5 1420.0C861.0 1407.0 862.3 1380.0 862.7 1372.0" fill="none" stroke="#fff" stroke-width="12.2" stroke-linecap="round" stroke-linejoin="round"/>
<path class="l" d="M869.5 1376L867.5 1440L866.5 1461"/>
</g>
<g id="clamp">
<path class="l" d="M976.4 1479.6C974.0 1478.3 968.1 1473.7 961.8 1471.6C955.5 1469.5 946.3 1467.1 938.6 1467.1C930.8 1467.2 921.5 1469.5 915.4 1472.1C909.3 1474.8 904.2 1481.1 902.0 1482.9"/>
<path class="l" style="stroke-width:2.4" d="M977.0 1480.2C977.6 1479.7 980.1 1478.3 980.5 1477.1C980.9 1476.0 981.8 1475.1 979.3 1473.0C976.8 1471.0 972.1 1467.5 965.4 1465.0C958.6 1462.5 947.2 1458.5 938.6 1458.2C929.9 1457.9 920.0 1460.3 913.6 1463.2C907.2 1466.1 902.6 1471.8 900.2 1475.7C897.8 1479.6 897.9 1482.9 899.3 1486.4C900.6 1490.0 904.6 1494.3 908.2 1497.1C911.8 1500.0 915.7 1502.0 920.7 1503.4C925.8 1504.8 932.6 1505.9 938.6 1505.7C944.5 1505.6 951.4 1504.2 956.4 1502.5C961.5 1500.8 966.8 1496.8 968.9 1495.7"/>
<path class="l" style="stroke-width:2.2" d="M897.9 1481.1C897.9 1482.9 896.7 1488.4 897.9 1491.8C899.0 1495.2 901.4 1498.6 904.6 1501.6C907.9 1504.6 911.5 1507.6 917.1 1509.6C922.8 1511.7 931.7 1513.9 938.6 1514.1C945.4 1514.3 952.6 1512.6 958.2 1511.1C963.9 1509.6 970.1 1506.2 972.5 1505.2"/>
<path class="l" style="stroke-width:2" d="M968.6 1493.6L974.3 1491.4L976.4 1505.2L971.1 1507.5Z"/>
<path class="t" d="M971.8 1492.9L973.6 1506.4"/>
<path class="l" d="M975.2 1495.0L988.6 1485.0"/>
<path class="l" d="M976.4 1503.4L988.6 1495.7"/>
<path class="k" d="M987.1 1483.8L992.1 1479.3L996.8 1481.1L996.8 1493.6L991.2 1498.6L987.7 1495.7Z"/>
</g>
<g id="clip170">
<path class="k" d="M356.0 1876.9L360.0 1876.9L361.0 1875.2L363.3 1873.8L366.2 1876.7L370.5 1880.0L373.8 1883.3L376.0 1889.5L376.0 1895.7L372.9 1898.1L367.6 1901.0L360.5 1901.0L357.1 1897.6L355.0 1894.3L354.0 1890.5L354.0 1887.4L356.7 1883.3L356.0 1882.4Z"/>
<path class="t" style="stroke:#fff;stroke-width:1" d="M361.2 1890.5L364.8 1895.7"/>
</g>
<!-- 60_boxparts.svg -->
<g id="plug66">
<path class="k" d="M840.0 1808.1L842.1 1804.5L846.0 1799.2L851.9 1794.4L855.5 1792.0L858.5 1791.1L862.0 1791.1L866.8 1793.8L866.8 1798.0L865.6 1800.4L873.9 1807.5L873.9 1812.9L869.8 1819.4L866.2 1821.8L860.8 1824.8L855.5 1824.8L848.9 1818.2L843.6 1817.0L840.0 1814.0Z"/>
<path class="t T" style="stroke:#fff;stroke-width:0.94;stroke-dasharray:1 3" d="M845.4 1805.7L860.2 1793.5"/>
<path class="t T" style="stroke:#fff;stroke-width:0.94;stroke-dasharray:1 4" d="M846.5 1814.6L865.6 1815.2"/>
<path class="t T" style="stroke:#fff;stroke-width:0.94;stroke-dasharray:1 3" d="M860.2 1808.7L871.0 1808.7"/>
<ellipse class="k" cx="891.8" cy="1844.7" rx="13.4" ry="5.7" transform="rotate(-40 891.8 1844.7)"/>
<path class="t T" style="stroke:#fff;stroke-width:1.18;stroke-dasharray:4 2" d="M887.6 1848.6L896.5 1840.8"/>
</g>
<g id="seal_ll"><g transform="translate(952.9 2150.3) rotate(-27)">
<ellipse class="w L" style="stroke-width:2.83" cx="4" cy="0" rx="25.5" ry="38.5"/>
<ellipse class="w L" style="stroke-width:3.07" cx="-3.5" cy="0.5" rx="25.5" ry="38.5"/>
<ellipse cx="3" cy="-1" rx="20.5" ry="33" fill="#000"/>
<path d="M8 -29A15 27 0 0 1 8 25" fill="none" stroke="#fff" stroke-width="0.9"/>
<path d="M11 -32.5A19 31 0 0 1 13 27" fill="none" stroke="#fff" stroke-width="0.8" stroke-dasharray="6 2"/>
<ellipse cx="4" cy="-0.5" rx="8.5" ry="17.5" fill="#fff"/>
<path class="t T" d="M-1 2L4 -2L2 5"/>
<path d="M-4 -19A11 20 0 0 1 6 -20" fill="none" stroke="#fff" stroke-width="1"/>
<path d="M13 8A10 19 0 0 1 4 21" fill="none" stroke="#fff" stroke-width="1"/>
</g>
</g>
<g id="seal_ur"><g transform="translate(1375.3 1906.3) rotate(-27)">
<ellipse class="w L" style="stroke-width:2.83" cx="4" cy="0" rx="25.5" ry="38.5"/>
<ellipse class="w L" style="stroke-width:2.83" cx="0" cy="0" rx="25.5" ry="38.5"/>
<ellipse class="w L" style="stroke-width:3.07" cx="-3.5" cy="0.5" rx="25" ry="38"/>
<ellipse cx="-2.5" cy="0.5" rx="19.5" ry="31" fill="#000"/>
<path d="M1 -27A15 26 0 0 1 4 22" fill="none" stroke="#fff" stroke-width="0.9"/>
<ellipse cx="-1" cy="1" rx="8" ry="17" fill="#fff"/>
<path class="t T" d="M-6 3L-1 -1L-3 6"/>
</g>
</g>
<circle cx="884.7" cy="2175" r="1.2" fill="#000"/>
<g id="bolt" transform="translate(1284.2 1844.2) rotate(-26.5)">
<path class="w L" style="stroke-width:2.36" d="M-4 -4.2H-32A1.6 4.2 0 0 0 -32 4.2H-4Z"/>
<path class="l L" style="stroke-width:2.71" d="M-29.0 -4.6A1.8 4.6 0 0 0 -29.0 4.6"/>
<path class="l L" style="stroke-width:2.71" d="M-25.8 -4.6A1.8 4.6 0 0 0 -25.8 4.6"/>
<path class="l L" style="stroke-width:2.71" d="M-22.6 -4.6A1.8 4.6 0 0 0 -22.6 4.6"/>
<path class="l L" style="stroke-width:2.71" d="M-19.4 -4.6A1.8 4.6 0 0 0 -19.4 4.6"/>
<path class="l L" style="stroke-width:2.71" d="M-16.2 -4.6A1.8 4.6 0 0 0 -16.2 4.6"/>
<path class="l L" style="stroke-width:2.71" d="M-13.0 -4.6A1.8 4.6 0 0 0 -13.0 4.6"/>
<path class="l L" style="stroke-width:2.71" d="M-9.8 -4.6A1.8 4.6 0 0 0 -9.8 4.6"/>
<path class="l L" style="stroke-width:2.71" d="M-6.6 -4.6A1.8 4.6 0 0 0 -6.6 4.6"/>
<ellipse class="w L" style="stroke-width:3.30" cx="-2" cy="0" rx="5.5" ry="10.5"/>
<path class="w L" style="stroke-width:3.30" d="M0 -8L5 -8.5L8 -5L8.5 3L6 8L1 8.5A4.5 8.5 0 0 1 0 -8Z"/>
<ellipse class="l L" style="stroke-width:2.83" cx="2.5" cy="0" rx="3" ry="6"/>
</g>
<g id="oshaft" transform="translate(1393.3 2185) rotate(27)">
<path class="w L" style="stroke-width:2.36" d="M-118 -18L-84 -19L-80 -17L-46 -15.5H0A4.5 15.3 0 0 1 0 15.3H-46L-80 17L-84 19L-118 18Z"/>
<path d="M-24 -15.3H0A4.5 15.3 0 0 0 0 15.3H-24A4.5 15.3 0 0 1 -24 -15.3Z" fill="#000" stroke="#000" stroke-width="1.5"/>
<ellipse class="w L" style="stroke-width:2.36" cx="0.5" cy="0" rx="4.3" ry="14.6"/>
<path class="l L" style="stroke-width:2.36" d="M-30 -15.3A4.6 15.3 0 0 0 -30 15.3"/>
<path class="l L" style="stroke-width:3.78" d="M-33 -15.3A4.6 15.3 0 0 0 -33 15.3"/>
<path class="l L" style="stroke-width:4.01" d="M-46 -15.5A4.6 15.5 0 0 0 -46 15.5"/>
<path class="l L" style="stroke-width:3.78" d="M-82 -18.5A5.5 18.5 0 0 0 -82 18.5"/>
<path class="l L" style="stroke-width:1.89" d="M-84.5 -19A5.7 19 0 0 0 -84.5 19"/>
</g>
<g id="collar" transform="translate(1451.3 2215.8) rotate(27)">
<path class="w L" style="stroke-width:2.60" d="M0 -24.7L-8 -25L-10 -23.5L-23 -23A10 23 0 0 0 -23 23L-10 23.5L-8 25L0 24.7Z"/>
<path class="l L" style="stroke-width:2.60" d="M-17 -23A10 23 0 0 0 -17 23M-10 -24A10.3 24 0 0 0 -10 24M-5.5 -25A10.3 25 0 0 0 -5.5 25"/>
<ellipse class="w L" style="stroke-width:2.83" cx="0" cy="0" rx="10.3" ry="24.7"/>
</g>
<g id="seal49a" transform="translate(1512.5 2249.5) rotate(27)">
<ellipse class="w L" style="stroke-width:2.83" cx="-3" cy="0" rx="21" ry="46.5"/>
<ellipse class="w L" style="stroke-width:2.83" cx="2.5" cy="0" rx="21" ry="46.5"/>
<path class="l L" d="M-3 -46.5H2.5M-3 46.5H2.5"/>
<path class="l L" d="M-10 -36A17 38 0 0 1 8 -38"/>
<ellipse cx="6" cy="-0.5" rx="15.5" ry="34.5" fill="#000"/>
<ellipse cx="7.5" cy="-0.5" rx="11.5" ry="30" fill="none" stroke="#fff" stroke-width="1"/>
<ellipse cx="6" cy="-0.5" rx="7.5" ry="25.5" fill="#fff"/>
<path d="M13 -10A9 27 0 0 1 7 25" fill="none" stroke="#000" stroke-width="1.2" stroke-dasharray="2 2"/>
</g>
<ellipse class="l L" style="stroke-width:5.43" cx="1587.2" cy="2289.2" rx="7.8" ry="21" transform="rotate(27 1587.2 2289.2)"/>
<g id="washer" transform="translate(1650 2322.5) rotate(27)">
<path class="w L" style="stroke-width:2.83" d="M-14 -29A12 29 0 0 0 -14 29L-3 33V-33Z"/>
<path class="l L" style="stroke-width:3.54" d="M-6 -34A14.5 34 0 0 0 -6 34"/>
<ellipse class="w L" style="stroke-width:2.83" cx="0" cy="0" rx="17.5" ry="37"/>
<ellipse class="l L" style="stroke-width:3.07" cx="1" cy="0" rx="11" ry="23"/>
</g>
<g id="nut">
<path class="w L" style="stroke-width:2.60" d="M1719.2 2332.5L1733.3 2331.7L1747.5 2337.5L1747.5 2351.7L1738.3 2374.2L1726.7 2389.2L1710.8 2391.7L1698.3 2386.7L1698.3 2371.7L1702.5 2360.0Z"/>
<path class="l L" d="M1719.2 2332.5L1730.0 2338.3L1747.5 2337.5"/>
<path class="l L" d="M1730.0 2338.3L1721.7 2351.7L1715.0 2367.5L1711.7 2391.3"/>
<path class="l L" d="M1702.5 2360.0L1715.0 2367.5"/>
<ellipse class="l L" style="stroke-width:2.60" cx="1730.8" cy="2365.0" rx="8.7" ry="19.2" transform="rotate(27 1730.8 2365.0)"/>
<ellipse class="l L" style="stroke-width:1.89" cx="1730.5" cy="2365.3" rx="5.7" ry="15.8" transform="rotate(27 1730.5 2365.3)"/>
<ellipse class="t T" cx="1730.2" cy="2365.7" rx="3.3" ry="12.5" transform="rotate(27 1730.2 2365.7)"/>
</g>
<!-- 70_case.svg -->
<g id="case">
<path class="l L" style="stroke-width:2.83" d="M1015.0 2034.8C1016.7 2033.8 1021.2 2031.1 1025.1 2028.8C1029.0 2026.4 1034.4 2023.5 1038.3 2020.7C1042.2 2017.8 1045.9 2014.3 1048.4 2011.6C1050.9 2008.9 1052.4 2006.8 1053.5 2004.5C1054.5 2002.1 1052.9 2000.8 1054.5 1997.4C1056.0 1994.0 1059.7 1988.1 1062.6 1984.2C1065.4 1980.4 1068.8 1977.0 1071.7 1974.1C1074.5 1971.2 1076.4 1970.2 1079.8 1967.0C1083.1 1963.8 1088.7 1958.6 1091.9 1954.9C1095.1 1951.2 1097.0 1948.1 1099.0 1944.8C1101.0 1941.4 1102.9 1936.7 1104.1 1934.6C1105.2 1932.6 1105.7 1933.0 1106.1 1932.6"/>
<path class="l L" style="stroke-width:2.36" d="M1053.5 1999.4C1054.3 1997.7 1056.2 1993.5 1058.5 1989.3C1060.9 1985.1 1064.8 1978.5 1067.6 1974.1C1070.5 1969.7 1074.0 1966.2 1075.7 1963.0C1077.4 1959.8 1076.2 1958.1 1077.7 1954.9C1079.3 1951.7 1082.1 1947.0 1084.8 1943.8C1087.5 1940.5 1091.2 1937.8 1093.9 1935.7C1096.6 1933.5 1099.8 1931.4 1101.0 1930.6"/>
<path class="k" d="M1076.2 1977.7L1079.8 1971.1L1089.9 1956.9L1100.0 1940.7L1106.1 1932.6L1104.1 1942.7L1096.0 1956.9L1085.8 1969.1L1078.8 1977.1Z"/>
<path class="l L" style="stroke-width:2.83" d="M1099.0 1928.6C1098.3 1927.6 1095.9 1924.7 1094.9 1922.5C1094.0 1920.3 1093.3 1917.6 1093.4 1915.4C1093.6 1913.2 1094.7 1911.5 1096.0 1909.3C1097.2 1907.2 1098.5 1904.6 1101.0 1902.3C1103.5 1899.9 1107.3 1897.9 1111.1 1895.2C1115.0 1892.5 1120.9 1888.2 1124.3 1886.1C1127.7 1884.0 1128.8 1883.3 1131.4 1882.5C1133.9 1881.8 1137.1 1881.1 1139.5 1881.5C1141.8 1881.9 1144.1 1883.6 1145.5 1885.1C1147.0 1886.5 1147.6 1889.3 1148.1 1890.1"/>
<path class="l L" style="stroke-width:2.60" d="M1099.0 1928.6C1100.2 1928.1 1103.2 1926.9 1106.1 1925.5C1108.9 1924.2 1112.8 1922.3 1116.2 1920.5C1119.6 1918.6 1123.1 1916.3 1126.3 1914.4C1129.5 1912.6 1133.9 1910.2 1135.4 1909.3"/>
<ellipse class="l L" style="stroke-width:2.60" cx="1104.1" cy="1915.9" rx="8.6" ry="11.3" transform="rotate(-30 1104.1 1915.9)"/>
<ellipse class="k" cx="1105.6" cy="1913.9" rx="4.3" ry="7.3" transform="rotate(-30 1105.6 1913.9)"/>
<path class="l L" style="stroke-width:1.42;stroke:#fff" d="M1104.1 1917.4L1107.6 1910.4"/>
<path class="l L" style="stroke-width:2.36" d="M1111.1 1900.2C1111.6 1901.3 1113.2 1905.6 1114.2 1906.3C1115.2 1907.0 1116.2 1903.6 1117.2 1904.3C1118.2 1905.0 1119.2 1908.8 1120.2 1910.4C1121.3 1911.9 1122.8 1912.9 1123.3 1913.4"/>
<path class="l L" style="stroke-width:2.36" d="M1117.2 1897.2C1117.9 1898.2 1120.2 1902.6 1121.3 1903.3C1122.4 1903.9 1122.9 1900.6 1123.8 1901.3C1124.6 1901.9 1125.4 1905.8 1126.3 1907.3C1127.2 1908.8 1128.8 1909.9 1129.3 1910.4"/>
<path class="l L" style="stroke-width:2.60" d="M1129.3 1886.1C1130.0 1887.1 1133.2 1890.1 1133.4 1892.1C1133.6 1894.2 1130.7 1896.0 1130.4 1898.2C1130.0 1900.4 1130.5 1903.4 1131.4 1905.3C1132.2 1907.2 1134.7 1908.7 1135.4 1909.3"/>
<ellipse class="l L" style="stroke-width:3.54" cx="1136.9" cy="1900.7" rx="2.8" ry="3.2" transform="rotate(0 1136.9 1900.7)"/>
<path class="l L" style="stroke-width:3.54" d="M1139.5 1896.2C1140.6 1896.0 1143.7 1895.5 1146.6 1895.2C1149.4 1894.8 1153.3 1894.5 1156.7 1894.2C1160.0 1893.8 1164.1 1893.5 1166.8 1893.2C1169.5 1892.8 1171.9 1892.3 1172.9 1892.1"/>
<path class="l L" style="stroke-width:2.36" d="M1139.5 1899.7C1141.2 1899.3 1145.9 1897.9 1149.6 1897.4C1153.3 1896.9 1158.5 1896.6 1161.7 1896.7C1164.9 1896.8 1167.6 1898.0 1168.8 1898.2"/>
<ellipse class="l L" style="stroke-width:3.54" cx="1165.8" cy="1911.4" rx="7.1" ry="9.9" transform="rotate(-25 1165.8 1911.4)"/>
<ellipse class="l L" style="stroke-width:2.83" cx="1166.5" cy="1911.6" rx="2.4" ry="4.0" transform="rotate(-25 1166.5 1911.6)"/>
<path class="l L" style="stroke-width:2.60" d="M1158.7 1904.3C1159.7 1903.3 1162.7 1900.1 1164.8 1898.2C1166.8 1896.4 1167.5 1895.3 1170.8 1893.2C1174.2 1891.0 1182.6 1886.8 1185.0 1885.6"/>
<path class="l L" style="stroke-width:2.36" d="M1171.3 1922.5C1172.3 1922.8 1175.3 1925.1 1176.9 1924.5C1178.5 1923.9 1179.6 1920.1 1181.0 1919.0C1182.3 1917.8 1184.3 1917.7 1185.0 1917.4"/>
<path class="l L" style="stroke-width:2.60" d="M1172.9 1926.0C1171.9 1926.8 1169.5 1928.8 1166.8 1930.6C1164.1 1932.4 1160.0 1935.1 1156.7 1936.7C1153.3 1938.2 1148.9 1939.9 1146.6 1939.9C1144.2 1939.9 1142.9 1938.1 1142.3 1936.7C1141.7 1935.3 1141.7 1933.3 1142.7 1931.6C1143.8 1929.9 1145.9 1928.2 1148.6 1926.5C1151.2 1924.9 1157.0 1922.3 1158.7 1921.5"/>
<path class="l L" style="stroke-width:2.60" d="M1108.1 1936.7C1110.8 1937.0 1118.7 1937.5 1124.3 1938.7C1129.9 1939.9 1136.1 1941.9 1141.5 1943.8C1146.9 1945.6 1152.8 1948.6 1156.7 1949.8C1160.6 1951.0 1163.4 1950.7 1164.8 1950.8"/>
<path class="l L" style="stroke-width:2.60" d="M1105.1 1948.8C1106.9 1948.6 1112.3 1947.6 1116.2 1947.8C1120.1 1948.0 1124.1 1948.6 1128.3 1949.8C1132.6 1951.0 1138.0 1953.2 1141.5 1954.9C1145.0 1956.6 1148.2 1959.1 1149.6 1959.9"/>
<path class="k" d="M1122.3 1991.3L1129.3 1982.2L1144.5 1964.0L1156.7 1952.9L1166.3 1949.3L1160.7 1959.9L1148.6 1973.1L1136.4 1985.2L1126.3 1991.3Z"/>
<path class="l L" style="stroke-width:2.60" d="M1143.5 1982.2C1147.1 1987.1 1158.2 2002.8 1164.8 2011.6C1171.3 2020.3 1179.9 2030.9 1183.0 2034.8"/>
<path class="l L" style="stroke-width:2.60" d="M1154.6 1972.6C1157.3 1976.2 1165.8 1987.4 1170.8 1994.3C1175.9 2001.3 1182.6 2011.2 1185.0 2014.6"/>
<path class="l L" style="stroke-width:1.89" d="M1158.2 1971.6C1160.6 1975.0 1168.4 1985.8 1172.9 1992.3C1177.3 1998.8 1183.0 2007.5 1185.0 2010.5"/>
<path class="l L" style="stroke-width:2.60" d="M1165.8 1956.9C1167.6 1958.8 1173.7 1964.7 1176.9 1968.0C1180.1 1971.4 1183.7 1975.6 1185.0 1977.1"/>
<path class="l L" style="stroke-width:1.89" d="M1167.8 1955.4L1185.0 1971.1"/>
<path class="k" d="M1163.2 2042.4L1172.9 2035.8L1185.0 2029.3L1185.0 2037.9L1174.9 2041.9Z"/>
<path class="l L" style="stroke-width:3.07" d="M1119.2 1995.4C1120.7 1996.4 1125.0 1998.2 1128.3 2001.4C1131.7 2004.6 1135.9 2009.9 1139.5 2014.6C1143.0 2019.3 1146.7 2025.2 1149.6 2029.8C1152.5 2034.3 1154.6 2038.7 1156.7 2041.9C1158.7 2045.1 1160.9 2047.8 1161.7 2049.0"/>
<path class="l L" style="stroke-width:2.60" d="M1131.4 2051.0C1133.1 2051.9 1137.3 2054.7 1141.5 2056.1C1145.7 2057.4 1151.6 2058.8 1156.7 2059.1C1161.7 2059.5 1167.1 2058.9 1171.9 2058.1C1176.6 2057.3 1182.8 2054.7 1185.0 2054.1"/>
<path class="l L" style="stroke-width:2.83" d="M1112.1 1953.9C1112.2 1955.1 1112.0 1959.3 1112.7 1961.0C1113.3 1962.6 1115.0 1964.0 1116.2 1964.0C1117.4 1964.0 1119.2 1962.1 1119.7 1961.0C1120.2 1959.8 1119.3 1957.6 1119.2 1956.9"/>
<path class="l L" style="stroke-width:2.83" d="M1131.4 2025.7C1131.5 2026.7 1131.5 2030.4 1132.4 2031.8C1133.2 2033.2 1135.3 2034.3 1136.4 2034.3C1137.6 2034.3 1139.0 2032.7 1139.5 2031.8C1139.9 2030.9 1139.0 2029.3 1139.0 2028.8"/>
<path class="l L" style="stroke-width:2.36" d="M1090.9 1974.1C1092.2 1972.9 1095.4 1969.1 1099.0 1967.0C1102.5 1965.0 1110.0 1962.8 1112.1 1962.0"/>
<path class="l L" style="stroke-width:2.36" d="M1112.7 1961.0C1113.1 1962.6 1114.3 1967.5 1115.2 1971.1C1116.1 1974.6 1117.7 1980.4 1118.2 1982.2"/>
<path class="l L" style="stroke-width:2.36" d="M1118.2 1982.2L1104.1 1981.2"/>
<path class="l L" style="stroke-width:2.36" d="M1091.9 1974.1C1093.4 1973.9 1099.2 1972.6 1101.0 1973.1C1102.9 1973.6 1103.0 1975.1 1103.0 1977.1C1103.0 1979.2 1102.5 1983.2 1101.0 1985.2C1099.5 1987.3 1095.1 1988.6 1093.9 1989.3"/>
<path class="k" d="M1117.2 2046.0L1126.3 2039.9L1143.5 2034.8L1134.4 2043.9L1124.3 2050.0Z"/>
<path class="l L" style="stroke-width:2.60" d="M1077.7 1986.3L1085.8 1985.2L1089.9 1992.3L1088.9 1998.4L1079.8 2001.4L1075.7 1995.4Z"/>
<path class="l L" style="stroke-width:2.60" d="M1062.6 2001.4L1069.6 1996.4L1075.7 1998.4L1076.7 2006.5L1071.7 2012.6L1063.6 2010.5Z"/>
<ellipse class="l L" style="stroke-width:2.83" cx="1068.6" cy="2004.3" rx="2.2" ry="2.8" transform="rotate(0 1068.6 2004.3)"/>
<path class="l L" style="stroke-width:2.36" d="M1092.9 1990.3C1094.3 1989.8 1098.5 1987.9 1101.0 1987.3C1103.5 1986.6 1106.6 1984.7 1108.1 1986.3C1109.6 1987.8 1110.0 1993.0 1110.1 1996.4C1110.3 1999.7 1109.8 2003.5 1109.1 2006.5C1108.4 2009.5 1106.6 2013.2 1106.1 2014.6"/>
<path class="l L" style="stroke-width:2.36" d="M1085.8 1991.3C1087.5 1991.8 1093.4 1992.7 1096.0 1994.3C1098.5 1996.0 1099.7 1998.9 1101.0 2001.4C1102.4 2004.0 1103.5 2008.2 1104.1 2009.5"/>
<path class="l L" style="stroke-width:2.36" d="M1079.8 2004.5C1081.8 2004.8 1088.4 2005.0 1091.9 2006.5C1095.4 2008.0 1099.5 2012.4 1101.0 2013.6"/>
<path class="l L" style="stroke-width:2.36" d="M1079.8 2011.6C1081.5 2011.9 1086.8 2012.4 1089.9 2013.6C1092.9 2014.8 1096.6 2017.8 1098.0 2018.6"/>
<path class="l L" style="stroke-width:3.07" d="M1109.1 2002.4C1109.6 2002.5 1112.7 1999.7 1112.1 2003.0C1111.6 2006.2 1108.1 2017.9 1106.1 2021.7C1104.1 2025.5 1101.0 2025.0 1100.0 2025.7"/>
<path class="k" d="M1049.4 2010.5L1053.5 2002.4L1058.5 2007.5L1059.5 2021.7L1057.5 2031.8L1051.4 2033.8L1052.4 2021.7Z"/>
<path class="l L" style="stroke-width:2.83" d="M1059.5 2011.6L1069.6 2010.5L1061.5 2018.6Z"/>
<path class="l L" style="stroke-width:2.36" d="M1040.3 2021.7L1048.4 2016.6L1049.4 2025.7L1041.3 2026.7Z"/>
<path class="l L" style="stroke-width:2.36" d="M1015.0 2037.9C1016.7 2036.9 1021.2 2033.8 1025.1 2031.8C1029.0 2029.8 1034.4 2028.6 1038.3 2025.7C1042.2 2022.9 1046.7 2016.4 1048.4 2014.6"/>
<path class="l L" style="stroke-width:2.60" d="M1018.0 2065.0C1018.0 2061.8 1017.5 2050.3 1018.0 2046.0C1018.5 2041.6 1019.4 2040.9 1021.1 2038.9C1022.8 2036.9 1025.3 2035.5 1028.2 2033.8C1031.0 2032.1 1036.6 2029.6 1038.3 2028.8"/>
<path class="l L" style="stroke-width:2.83" d="M1180.0 1888.1C1181.0 1887.6 1183.9 1885.7 1186.1 1885.1C1188.3 1884.5 1191.0 1884.0 1193.2 1884.6C1195.3 1885.1 1197.6 1886.3 1199.2 1888.1C1200.8 1889.9 1202.3 1892.8 1202.8 1895.2C1203.3 1897.5 1203.0 1900.6 1202.3 1902.3C1201.5 1903.9 1198.9 1904.8 1198.2 1905.3"/>
<path class="l L" style="stroke-width:2.83" d="M1192.1 1890.1C1192.1 1891.5 1191.0 1896.6 1191.6 1898.2C1192.3 1899.8 1194.9 1900.1 1196.2 1899.7C1197.5 1899.4 1198.8 1897.3 1199.2 1896.2C1199.6 1895.1 1198.8 1893.7 1198.7 1893.2"/>
<path class="l L" style="stroke-width:2.60" d="M1183.0 1890.1C1183.9 1891.0 1186.7 1893.0 1188.1 1895.2C1189.4 1897.4 1190.6 1901.9 1191.1 1903.3"/>
<path class="l L" style="stroke-width:3.07" d="M1187.1 1905.3C1190.1 1906.6 1198.9 1908.8 1205.3 1913.4C1211.7 1917.9 1219.6 1926.4 1225.5 1932.6C1231.4 1938.9 1238.2 1947.8 1240.7 1950.8"/>
<path class="l L" style="stroke-width:2.60" d="M1198.2 1905.3C1200.7 1906.6 1208.0 1909.5 1213.4 1913.4C1218.8 1917.3 1225.4 1923.3 1230.6 1928.6C1235.8 1933.8 1242.4 1942.1 1244.8 1944.8"/>
<path class="l L" style="stroke-width:2.36" d="M1186.1 1909.3C1188.9 1911.0 1197.5 1914.9 1203.3 1919.5C1209.0 1924.0 1215.6 1931.4 1220.5 1936.7C1225.4 1941.9 1230.6 1948.5 1232.6 1950.8"/>
<path class="l L" style="stroke-width:2.60" d="M1186.1 1915.4C1188.4 1916.9 1195.3 1920.6 1200.2 1924.5C1205.1 1928.4 1210.7 1934.0 1215.4 1938.7C1220.1 1943.4 1226.4 1950.5 1228.6 1952.9"/>
<path class="l L" style="stroke-width:4.01" d="M1213.4 1923.5C1215.4 1925.7 1221.7 1932.3 1225.5 1936.7C1229.4 1941.1 1234.8 1947.6 1236.7 1949.8"/>
<path class="l L" style="stroke-width:2.83" d="M1244.8 1944.8C1245.8 1944.1 1248.6 1941.4 1250.8 1940.7C1253.0 1940.0 1255.7 1939.9 1257.9 1940.7C1260.1 1941.6 1262.4 1943.8 1264.0 1945.8C1265.6 1947.8 1267.2 1950.5 1267.5 1952.9C1267.9 1955.2 1267.1 1958.1 1266.0 1959.9C1264.9 1961.8 1261.8 1963.3 1261.0 1964.0"/>
<path class="l L" style="stroke-width:2.83" d="M1254.9 1947.3C1255.0 1948.6 1254.5 1953.5 1255.4 1954.9C1256.2 1956.3 1258.8 1956.2 1259.9 1955.9C1261.1 1955.6 1262.1 1953.9 1262.5 1952.9C1262.8 1951.8 1262.1 1950.3 1262.0 1949.8"/>
<path class="l L" style="stroke-width:2.60" d="M1249.8 1945.8C1250.7 1947.0 1253.9 1950.3 1254.9 1952.9C1255.9 1955.4 1255.7 1959.6 1255.9 1961.0"/>
<path class="l L" style="stroke-width:2.60" d="M1219.5 1959.9L1228.6 1954.9L1240.7 1947.8"/>
<path class="l L" style="stroke-width:2.83" d="M1219.5 1959.9C1219.4 1960.8 1218.5 1962.5 1219.0 1965.0C1219.5 1967.5 1221.1 1972.6 1222.5 1975.1C1223.9 1977.7 1226.0 1979.2 1227.6 1980.2C1229.1 1981.2 1230.1 1980.4 1231.6 1981.2C1233.1 1982.0 1234.5 1984.6 1236.7 1984.7C1238.9 1984.9 1242.7 1983.0 1244.8 1982.2C1246.8 1981.4 1248.1 1980.5 1248.8 1980.2"/>
<ellipse class="l L" style="stroke-width:3.30" cx="1231.1" cy="1968.0" rx="5.1" ry="6.7" transform="rotate(-20 1231.1 1968.0)"/>
<ellipse class="l L" style="stroke-width:2.60" cx="1230.1" cy="1967.8" rx="2.0" ry="3.3" transform="rotate(-20 1230.1 1967.8)"/>
<path class="l L" style="stroke-width:2.36" d="M1236.2 1977.7L1238.7 1977.7"/>
<path class="l L" style="stroke-width:2.83" d="M1218.5 1967.0C1216.4 1967.9 1209.3 1970.4 1206.3 1972.1C1203.3 1973.8 1201.5 1975.3 1200.2 1977.1C1199.0 1979.0 1198.5 1981.1 1198.7 1983.2C1199.0 1985.3 1200.0 1988.5 1201.8 1989.8C1203.5 1991.1 1206.2 1991.4 1209.3 1990.8C1212.5 1990.2 1217.4 1987.9 1220.5 1986.3C1223.5 1984.7 1226.4 1982.0 1227.6 1981.2"/>
<path class="l L" style="stroke-width:2.60" d="M1255.9 1961.0C1256.6 1963.5 1258.3 1971.1 1259.9 1976.1C1261.6 1981.2 1264.0 1986.6 1266.0 1991.3C1268.0 1996.0 1271.1 2002.3 1272.1 2004.5"/>
<path class="l L" style="stroke-width:2.60" d="M1261.0 1964.0C1261.3 1964.8 1261.6 1966.2 1263.0 1969.1C1264.3 1971.9 1267.0 1977.0 1269.1 1981.2C1271.1 1985.4 1274.1 1992.2 1275.1 1994.3"/>
<path class="l L" style="stroke-width:2.83" d="M1250.8 1974.1C1251.8 1975.8 1254.2 1980.4 1256.9 1984.2C1259.6 1988.1 1265.3 1995.2 1267.0 1997.4"/>
<path class="l L" style="stroke-width:2.83" d="M1244.8 1983.2C1247.5 1986.3 1255.6 1995.0 1261.0 2001.4C1266.4 2007.8 1273.1 2017.1 1277.1 2021.7C1281.2 2026.2 1283.9 2027.6 1285.2 2028.8"/>
<path class="l L" style="stroke-width:2.60" d="M1249.8 1982.2C1252.5 1985.1 1260.8 1993.2 1266.0 1999.4C1271.2 2005.6 1277.7 2015.3 1281.2 2019.6C1284.7 2024.0 1286.3 2024.7 1287.3 2025.7"/>
<path class="l L" style="stroke-width:2.60" d="M1240.7 1986.3C1241.6 1987.9 1244.1 1993.5 1245.8 1996.4C1247.5 1999.2 1250.0 2002.3 1250.8 2003.5"/>
<path class="l L" style="stroke-width:2.60" d="M1252.9 1999.9C1253.0 2000.8 1254.2 2004.0 1253.9 2005.5C1253.5 2006.9 1254.7 2006.0 1250.8 2008.5C1247.0 2011.0 1235.7 2017.6 1230.6 2020.7C1225.5 2023.7 1222.2 2025.7 1220.5 2026.7"/>
<path class="l L" style="stroke-width:2.83" d="M1275.1 1994.3C1277.5 1994.3 1286.3 1993.5 1289.3 1994.3C1292.3 1995.2 1292.2 1996.9 1293.3 1999.4C1294.5 2001.9 1295.4 2005.8 1296.4 2009.5C1297.4 2013.2 1298.3 2016.6 1299.4 2021.7C1300.5 2026.7 1302.6 2035.8 1303.0 2039.9C1303.3 2043.9 1302.3 2044.6 1301.4 2046.0C1300.6 2047.3 1298.5 2047.6 1297.9 2048.0"/>
<path class="l L" style="stroke-width:2.36" d="M1283.2 1997.4C1283.9 1998.1 1285.9 1998.7 1287.3 2001.4C1288.6 2004.1 1290.0 2008.9 1291.3 2013.6C1292.7 2018.3 1294.2 2025.0 1295.4 2029.8C1296.5 2034.5 1297.9 2039.9 1298.4 2041.9"/>
<path class="l L" style="stroke-width:2.36" d="M1272.1 1997.4C1273.6 1997.5 1279.0 1997.2 1281.2 1997.9C1283.4 1998.6 1283.9 1998.7 1285.2 2001.4C1286.6 2004.2 1287.9 2009.5 1289.3 2014.6C1290.6 2019.6 1292.3 2027.6 1293.3 2031.8C1294.3 2036.0 1295.0 2038.5 1295.4 2039.9"/>
<path class="k" d="M1180.0 2025.7L1200.2 2019.6L1219.0 2015.1L1210.4 2023.7L1195.2 2031.8L1180.0 2037.9Z"/>
<path class="l L" style="stroke-width:1.42;stroke:#fff" d="M1182.0 2031.8L1210.4 2020.2"/>
<path class="l L" style="stroke-width:2.12" d="M1180.0 2039.9C1182.5 2039.2 1190.1 2038.2 1195.2 2035.8C1200.2 2033.5 1207.8 2027.4 1210.4 2025.7"/>
<path class="l L" style="stroke-width:2.83" d="M1180.0 1969.1C1181.3 1970.7 1185.1 1975.0 1188.1 1979.2C1191.1 1983.4 1195.3 1989.8 1198.2 1994.3C1201.1 1998.9 1203.4 2003.5 1205.3 2006.5C1207.2 2009.5 1208.7 2011.6 1209.3 2012.6"/>
<path class="l L" style="stroke-width:2.60" d="M1180.0 1982.2C1181.7 1984.6 1186.7 1991.0 1190.1 1996.4C1193.5 2001.8 1198.6 2011.6 1200.2 2014.6"/>
<path class="l L" style="stroke-width:2.36" d="M1180.0 1998.4L1192.1 2016.6"/>
<path class="l L" style="stroke-width:2.60" d="M1256.9 2014.6C1252.5 2017.1 1238.4 2024.5 1230.6 2029.8C1222.8 2035.0 1216.4 2040.1 1210.4 2046.0C1204.3 2051.8 1196.9 2061.8 1194.2 2065.0"/>
<path class="l L" style="stroke-width:2.83" d="M1250.8 2007.5C1246.1 2010.5 1230.9 2019.3 1222.5 2025.7C1214.1 2032.1 1206.0 2041.2 1200.2 2046.0C1194.5 2050.7 1190.1 2052.7 1188.1 2054.1"/>
<path class="l L" style="stroke-width:2.36" d="M1180.0 2053.0C1181.3 2053.2 1185.9 2052.7 1188.1 2054.1C1190.3 2055.4 1192.3 2060.0 1193.2 2061.1"/>
<path class="l L" style="stroke-width:2.83" d="M1264.0 2033.8C1260.1 2036.0 1249.1 2041.8 1240.7 2047.0C1232.3 2052.2 1217.9 2062.0 1213.4 2065.0"/>
<path class="l L" style="stroke-width:2.60" d="M1271.1 2035.8C1266.7 2038.5 1251.8 2047.2 1244.8 2052.0C1237.7 2056.9 1231.3 2062.8 1228.6 2065.0"/>
<path class="l L" style="stroke-width:2.36" d="M1254.9 2052.0L1240.7 2065.0"/>
<path class="l L" style="stroke-width:2.83" d="M1259.9 2049.0L1277.1 2037.9L1289.3 2036.9"/>
<path class="l L" style="stroke-width:2.83" d="M1259.9 2049.0C1260.6 2049.8 1262.6 2051.4 1264.0 2054.1C1265.3 2056.7 1267.4 2063.2 1268.0 2065.0"/>
<path class="l L" style="stroke-width:2.60" d="M1266.0 2052.0L1291.3 2040.9"/>
<path class="l L" style="stroke-width:3.54" d="M1263.0 2015.6L1263.5 2031.8"/>
<path class="l L" style="stroke-width:2.36" d="M1255.9 2005.5L1261.0 2011.6"/>
<path class="l L" style="stroke-width:2.83" d="M1265.0 2032.8C1266.0 2032.6 1269.1 2031.1 1271.1 2031.3C1273.1 2031.5 1276.1 2033.4 1277.1 2033.8"/>
<path class="l L" style="stroke-width:3.54" d="M1297.4 2048.0C1299.7 2049.7 1307.8 2055.3 1311.6 2058.1C1315.3 2060.9 1318.3 2063.8 1319.6 2065.0"/>
<path class="l L" style="stroke-width:3.54" d="M1281.2 2025.7L1285.2 2037.9"/>
<path class="l L" style="stroke-width:2.83" d="M1018.0 2060.0C1017.7 2062.5 1016.4 2070.1 1016.0 2075.2C1015.6 2080.2 1015.0 2086.6 1015.5 2090.4C1016.0 2094.1 1017.4 2095.8 1019.0 2097.4C1020.7 2099.1 1022.9 2099.8 1025.1 2100.5C1027.3 2101.2 1029.5 2102.0 1032.2 2101.5C1034.9 2101.0 1037.8 2099.3 1041.3 2097.4C1044.9 2095.6 1051.4 2091.5 1053.5 2090.4"/>
<path class="l L" style="stroke-width:2.36" d="M1025.1 2061.0L1045.4 2066.1"/>
<path class="l L" style="stroke-width:2.83" d="M1035.7 2084.8C1036.2 2084.0 1037.0 2081.2 1038.3 2080.2C1039.5 2079.3 1041.5 2079.3 1043.3 2079.2C1045.2 2079.1 1048.4 2079.6 1049.4 2079.7"/>
<path class="l L" style="stroke-width:2.83" d="M1045.4 2063.0C1046.0 2065.4 1048.1 2072.6 1049.4 2077.2C1050.8 2081.8 1051.8 2086.6 1053.5 2090.4C1055.1 2094.1 1057.0 2096.4 1059.5 2099.5C1062.1 2102.5 1065.3 2105.7 1068.6 2108.6C1072.0 2111.4 1075.9 2114.6 1079.8 2116.7C1083.6 2118.7 1088.7 2119.9 1091.9 2120.7C1095.1 2121.6 1097.8 2121.6 1099.0 2121.7"/>
<path class="l L" style="stroke-width:2.83" d="M1099.0 2121.7C1101.9 2123.2 1110.3 2127.8 1116.2 2130.8C1122.1 2133.9 1127.7 2137.1 1134.4 2139.9C1141.2 2142.8 1148.2 2145.2 1156.7 2148.0C1165.1 2150.9 1180.3 2155.6 1185.0 2157.1"/>
<path class="l L" style="stroke-width:2.36" d="M1104.1 2123.8C1106.9 2125.3 1115.0 2130.0 1121.3 2132.9C1127.5 2135.7 1130.9 2137.4 1141.5 2141.0C1152.1 2144.5 1177.8 2151.9 1185.0 2154.1"/>
<path class="l L" style="stroke-width:2.83" d="M1126.3 2063.0C1129.7 2065.1 1139.8 2071.8 1146.6 2075.2C1153.3 2078.6 1160.4 2081.1 1166.8 2083.3C1173.2 2085.5 1182.0 2087.5 1185.0 2088.3"/>
<path class="l L" style="stroke-width:2.12" d="M1127.3 2061.0C1131.0 2063.1 1140.0 2069.6 1149.6 2073.7C1159.2 2077.7 1179.1 2083.4 1185.0 2085.3"/>
<path class="l L" style="stroke-width:2.60" d="M1139.5 2075.2C1139.8 2077.2 1141.3 2084.3 1141.5 2087.3C1141.7 2090.4 1141.8 2091.5 1140.5 2093.4C1139.1 2095.2 1134.6 2097.6 1133.4 2098.5"/>
<path class="l L" style="stroke-width:2.83" d="M1132.4 2099.5C1134.4 2101.0 1140.1 2105.5 1144.5 2108.6C1148.9 2111.6 1156.3 2116.2 1158.7 2117.7"/>
<path class="l L" style="stroke-width:2.36" d="M1134.4 2097.4C1138.1 2100.3 1148.2 2109.6 1156.7 2114.6C1165.1 2119.7 1180.3 2125.6 1185.0 2127.8"/>
<path class="l L" style="stroke-width:2.60" d="M1141.5 2094.4C1144.0 2095.4 1151.4 2098.5 1156.7 2100.5C1161.9 2102.5 1168.1 2104.2 1172.9 2106.5C1177.6 2108.9 1183.0 2113.3 1185.0 2114.6"/>
<path class="l L" style="stroke-width:2.60" d="M1162.7 2084.3C1162.4 2085.6 1161.7 2090.2 1160.7 2092.4C1159.7 2094.6 1157.3 2096.6 1156.7 2097.4"/>
<path class="l L" style="stroke-width:2.83" d="M1172.9 2106.5L1160.7 2116.7"/>
<path class="l L" style="stroke-width:2.83" d="M1164.8 2073.2L1166.8 2080.2"/>
<path class="l L" style="stroke-width:2.83" d="M1170.8 2077.2L1172.9 2083.3"/>
<path class="l L" style="stroke-width:2.83" d="M1138.5 2108.6C1138.1 2109.6 1137.3 2113.3 1136.4 2114.6C1135.6 2116.0 1133.9 2116.3 1133.4 2116.7"/>
<path class="l L" style="stroke-width:2.60" d="M1115.2 2121.7C1117.7 2121.4 1126.8 2119.7 1130.4 2119.7C1133.9 2119.7 1132.0 2120.2 1136.4 2121.7C1140.8 2123.2 1150.6 2127.3 1156.7 2128.8C1162.7 2130.3 1170.2 2130.5 1172.9 2130.8"/>
<path class="l L" style="stroke-width:2.36" d="M1122.3 2124.8L1134.4 2136.9"/>
<path class="l L" style="stroke-width:3.54" d="M1132.4 2128.8C1133.1 2130.2 1134.7 2135.1 1136.4 2136.9C1138.1 2138.8 1141.5 2139.4 1142.5 2139.9"/>
<path class="l L" style="stroke-width:2.83" d="M1146.6 2121.2C1147.9 2121.6 1152.8 2122.5 1154.6 2123.8C1156.5 2125.0 1157.7 2127.0 1157.7 2128.8C1157.7 2130.7 1155.2 2133.9 1154.6 2134.9"/>
<path class="l L" style="stroke-width:2.83" d="M1172.9 2128.8C1173.0 2130.2 1173.2 2134.7 1173.9 2136.9C1174.5 2139.1 1175.7 2141.3 1176.9 2142.0C1178.1 2142.6 1180.1 2142.8 1181.0 2141.0C1181.8 2139.1 1181.8 2132.5 1182.0 2130.8"/>
<path class="l L" style="stroke-width:3.54" d="M1173.9 2154.1C1174.4 2156.1 1175.7 2162.5 1176.9 2166.3C1178.1 2170.0 1179.6 2173.3 1181.0 2176.4C1182.3 2179.4 1184.3 2183.1 1185.0 2184.5"/>
<path class="l L" style="stroke-width:2.12" d="M1177.9 2154.1C1178.4 2156.0 1179.8 2161.9 1181.0 2165.2C1182.1 2168.6 1184.3 2172.8 1185.0 2174.3"/>
<path class="l L" style="stroke-width:2.83" d="M1305.5 2060.0L1331.8 2073.2"/>
<path class="l L" style="stroke-width:2.36" d="M1310.5 2062.0L1317.6 2067.1"/>
<path class="l L" style="stroke-width:3.07" d="M1331.8 2073.2C1331.6 2077.7 1331.8 2091.5 1330.8 2100.5C1329.8 2109.4 1326.6 2122.4 1325.7 2126.8"/>
<path class="l L" style="stroke-width:2.60" d="M1331.8 2073.7C1326.7 2077.5 1308.2 2090.9 1301.4 2096.4C1294.7 2101.9 1293.0 2104.9 1291.3 2106.5"/>
<path class="l L" style="stroke-width:2.60" d="M1267.0 2060.0C1268.0 2061.7 1270.2 2066.6 1273.1 2070.1C1276.0 2073.7 1279.5 2077.1 1284.2 2081.3C1289.0 2085.4 1298.6 2092.6 1301.4 2094.9"/>
<path class="l L" style="stroke-width:2.60" d="M1255.9 2060.0C1253.4 2062.0 1245.8 2067.1 1240.7 2072.1C1235.7 2077.2 1229.9 2083.9 1225.5 2090.4C1221.2 2096.8 1217.4 2103.5 1214.4 2110.6C1211.4 2117.7 1209.1 2125.1 1207.3 2132.9C1205.6 2140.6 1204.4 2153.1 1203.8 2157.1"/>
<path class="l L" style="stroke-width:2.60" d="M1244.8 2060.0C1242.1 2062.7 1233.6 2070.0 1228.6 2076.2C1223.5 2082.4 1218.3 2090.0 1214.4 2097.4C1210.5 2104.9 1207.7 2113.5 1205.3 2120.7C1202.9 2128.0 1201.5 2134.4 1200.2 2141.0C1199.0 2147.5 1198.1 2157.0 1197.7 2160.2"/>
<path class="l L" style="stroke-width:3.78;stroke-dasharray:5 1.2" d="M1213.4 2078.2C1212.0 2080.7 1207.7 2087.7 1205.3 2093.4C1202.9 2099.1 1200.7 2106.4 1199.2 2112.6C1197.7 2118.9 1196.9 2123.4 1196.2 2130.8C1195.5 2138.3 1195.3 2152.8 1195.2 2157.1"/>
<path class="l L" style="stroke-width:2.83" d="M1189.1 2191.6C1189.0 2194.6 1187.9 2205.4 1188.6 2209.8C1189.3 2214.2 1190.7 2216.0 1193.2 2217.9C1195.6 2219.7 1199.4 2220.7 1203.3 2220.9C1207.2 2221.1 1214.2 2219.2 1216.4 2218.9"/>
<path class="l L" style="stroke-width:2.83" d="M1216.4 2218.9L1277.1 2184.5L1306.5 2164.2"/>
<path class="l L" style="stroke-width:2.83" d="M1194.2 2161.2C1193.7 2164.6 1192.0 2176.4 1191.1 2181.4C1190.3 2186.5 1189.4 2189.9 1189.1 2191.6"/>
<path class="l L" style="stroke-width:2.60" d="M1198.2 2162.2C1200.2 2162.7 1206.6 2165.4 1210.4 2165.2C1214.1 2165.1 1217.6 2162.7 1220.5 2161.2C1223.3 2159.7 1226.4 2157.0 1227.6 2156.1"/>
<path class="l L" style="stroke-width:2.83" d="M1223.5 2149.1L1223.5 2155.1"/>
<path class="l L" style="stroke-width:2.83" d="M1221.5 2112.6C1221.6 2114.0 1221.2 2118.9 1222.0 2120.7C1222.8 2122.5 1225.2 2123.2 1226.5 2123.2C1227.9 2123.2 1229.6 2121.8 1230.1 2120.7C1230.6 2119.6 1229.7 2117.3 1229.6 2116.7"/>
<path class="l L" style="stroke-width:2.83" d="M1255.9 2113.6C1256.1 2114.8 1256.1 2118.9 1256.9 2120.7C1257.8 2122.5 1259.6 2124.1 1261.0 2124.3C1262.3 2124.4 1264.4 2122.7 1265.0 2121.7C1265.6 2120.7 1264.6 2118.8 1264.5 2118.2"/>
<path class="l L" style="stroke-width:2.83" d="M1280.7 2093.9C1280.8 2095.0 1280.4 2098.7 1281.2 2100.5C1282.0 2102.2 1283.9 2104.2 1285.2 2104.5C1286.6 2104.9 1288.7 2103.7 1289.3 2102.5C1289.9 2101.3 1288.9 2098.3 1288.8 2097.4"/>
<path class="l L" style="stroke-width:2.83" d="M1209.3 2138.9C1212.6 2138.8 1222.5 2136.7 1228.6 2137.9C1234.6 2139.1 1239.5 2142.3 1245.8 2146.0C1252.0 2149.7 1262.6 2157.8 1266.0 2160.2"/>
<path class="l L" style="stroke-width:2.60" d="M1209.3 2138.9C1212.0 2140.4 1219.5 2145.3 1225.5 2148.0C1231.6 2150.7 1239.0 2152.9 1245.8 2155.1C1252.5 2157.3 1262.6 2160.2 1266.0 2161.2"/>
<path class="l L" style="stroke-width:1.89" d="M1212.4 2139.9C1215.4 2140.4 1224.2 2140.8 1230.6 2143.0C1237.0 2145.2 1247.5 2151.4 1250.8 2153.1"/>
<path class="k" d="M1240.7 2146.5L1254.9 2152.1L1266.0 2159.7L1266.0 2161.2L1250.8 2155.6Z"/>
<path class="l L" style="stroke-width:2.83" d="M1233.6 2163.7C1235.5 2164.1 1241.9 2165.2 1244.8 2166.3C1247.6 2167.4 1249.8 2169.6 1250.8 2170.3"/>
<path class="l L" style="stroke-width:2.83" d="M1248.8 2165.2L1265.5 2166.3L1256.9 2172.3L1250.8 2170.8Z"/>
<path class="l L" style="stroke-width:2.83" d="M1256.9 2169.3L1234.6 2191.6L1229.6 2204.7"/>
<path class="l L" style="stroke-width:2.12" d="M1250.8 2171.3L1233.6 2190.5"/>
<path class="l L" style="stroke-width:2.83" d="M1226.5 2193.6C1226.6 2195.1 1226.5 2200.7 1227.1 2202.7C1227.6 2204.6 1229.2 2204.8 1229.6 2205.2"/>
<path class="l L" style="stroke-width:4.01" d="M1291.3 2106.5C1289.6 2109.2 1284.1 2117.0 1281.2 2122.7C1278.3 2128.5 1275.8 2136.6 1274.1 2141.0C1272.4 2145.3 1271.6 2147.7 1271.1 2149.1"/>
<path class="l L" style="stroke-width:4.96" d="M1308.5 2117.7C1306.2 2119.7 1298.1 2125.4 1294.3 2129.8C1290.6 2134.2 1287.8 2139.8 1286.3 2144.0C1284.7 2148.2 1285.1 2152.4 1285.2 2155.1C1285.4 2157.8 1286.9 2159.3 1287.3 2160.2"/>
<path class="l L" style="stroke-width:2.36" d="M1298.4 2111.6C1296.5 2114.0 1290.3 2120.5 1287.3 2125.8C1284.2 2131.0 1281.4 2140.1 1280.2 2143.0"/>
<path class="l L" style="stroke-width:3.07" d="M1271.1 2149.1C1271.2 2151.1 1270.9 2157.5 1271.6 2161.2C1272.3 2164.9 1273.5 2168.8 1275.1 2171.3C1276.7 2173.8 1278.8 2176.0 1281.2 2176.4C1283.6 2176.7 1286.3 2175.4 1289.3 2173.3C1292.3 2171.3 1296.5 2166.1 1299.4 2164.2C1302.3 2162.4 1305.3 2162.5 1306.5 2162.2"/>
<path class="l L" style="stroke-width:3.07" d="M1274.1 2153.1C1274.3 2155.0 1273.9 2162.0 1275.1 2164.2C1276.3 2166.4 1279.0 2166.9 1281.2 2166.3C1283.4 2165.6 1286.9 2161.7 1288.3 2160.2C1289.6 2158.7 1289.1 2157.7 1289.3 2157.1"/>
<path class="l L" style="stroke-width:2.60" d="M1275.1 2153.1L1287.3 2158.2"/>
<path class="l L" style="stroke-width:2.60" d="M1269.1 2149.1C1268.7 2151.1 1267.2 2156.6 1267.0 2161.2C1266.9 2165.7 1267.4 2172.7 1268.0 2176.4C1268.7 2180.1 1269.7 2181.9 1271.1 2183.5C1272.4 2185.0 1275.3 2185.1 1276.1 2185.5"/>
<path class="l L" style="stroke-width:3.07" d="M1322.7 2124.8C1323.2 2122.4 1325.3 2114.6 1325.7 2110.6C1326.1 2106.5 1325.9 2103.3 1325.2 2100.5C1324.5 2097.7 1323.3 2095.1 1321.7 2093.9C1320.1 2092.7 1317.3 2092.8 1315.6 2093.4C1313.9 2094.0 1312.4 2095.1 1311.6 2097.4C1310.7 2099.8 1310.9 2104.4 1310.5 2107.6C1310.2 2110.8 1309.7 2115.2 1309.5 2116.7"/>
<path class="l L" style="stroke-width:2.60" d="M1297.4 2108.6C1298.7 2109.2 1303.3 2110.6 1305.5 2112.6C1307.7 2114.6 1309.7 2119.4 1310.5 2120.7"/>
<path class="l L" style="stroke-width:2.12" d="M1289.3 2174.3C1290.5 2174.7 1293.8 2177.2 1296.4 2176.4C1298.9 2175.5 1303.1 2170.5 1304.5 2169.3"/>
<path class="l L" style="stroke-width:2.60" d="M1180.0 2082.8L1209.3 2090.4L1213.4 2080.2L1217.4 2076.2L1209.3 2070.1L1197.2 2077.7L1190.1 2078.7"/>
<path class="l L" style="stroke-width:2.36" d="M1185.1 2069.1L1186.1 2075.2"/>
<path class="l L" style="stroke-width:2.36" d="M1186.1 2068.1L1209.3 2070.1"/>
<path class="k" d="M1213.4 2079.2L1217.4 2076.2L1215.4 2085.3L1211.4 2089.3Z"/>
<path class="l L" style="stroke-width:2.60" d="M1180.0 2087.3C1183.9 2088.3 1199.9 2090.9 1203.3 2093.4C1206.6 2095.9 1201.4 2097.9 1200.2 2102.5C1199.1 2107.1 1197.0 2115.3 1196.2 2120.7C1195.3 2126.1 1195.3 2132.5 1195.2 2134.9"/>
<path class="k" d="M1183.0 2090.4L1191.1 2091.4L1186.1 2098.5Z"/>
<path class="l L" style="stroke-width:2.60" d="M1180.0 2111.6L1194.2 2120.7"/>
<path class="l L" style="stroke-width:2.60" d="M1180.0 2124.8L1196.2 2130.8"/>
<path class="l L" style="stroke-width:2.60" d="M1180.0 2130.8L1195.2 2138.9"/>
<path class="l L" style="stroke-width:2.60" d="M1180.0 2143.0C1182.2 2143.7 1191.1 2144.7 1193.2 2147.0C1195.2 2149.4 1192.3 2155.5 1192.1 2157.1"/>
<path class="l L" style="stroke-width:2.60" d="M1180.0 2151.1L1190.1 2153.1"/>
<path class="l L" style="stroke-width:2.83" d="M1186.1 2141.0L1192.1 2149.1"/>
<path class="l L" style="stroke-width:4.72" d="M1193.7 2146.0L1196.2 2160.2"/>
<path class="l L" style="stroke-width:2.83" d="M1180.0 2163.2C1181.3 2166.3 1186.4 2176.9 1188.1 2181.4C1189.8 2186.0 1189.8 2189.0 1190.1 2190.5"/>
<path class="l L" style="stroke-width:2.36" d="M1180.0 2171.3L1187.1 2187.5"/>
<g transform="translate(1087.5 2070.8) rotate(-27)">
<ellipse class="w L" style="stroke-width:2.83" cx="0" cy="0" rx="37.6" ry="54.8"/>
<path class="l L" style="stroke-width:2.83" d="M6 -54A37.6 54.8 0 0 1 6 54"/>
<ellipse class="l L" style="stroke-width:2.36" cx="-2" cy="0" rx="33" ry="49.5"/>
<ellipse class="l L" style="stroke-width:2.36" cx="-3" cy="1" rx="28.5" ry="44"/>
<ellipse cx="-2" cy="1.5" rx="24.8" ry="40.6" fill="#000"/>
<ellipse cx="4" cy="0.5" rx="15.5" ry="32.5" fill="#fff"/>
<path d="M-14 -30A17 34 0 0 0 -12 30" fill="none" stroke="#fff" stroke-width="1.2"/>
<ellipse class="l L" style="stroke-width:2.60" cx="2.3" cy="-10.9" rx="5.5" ry="16.6"/>
<path class="l L" style="stroke-width:2.83" d="M8 -22L13 -4L10 6L18 8L17 13M10 6L5 12L14 14.5M2 10C6 16 10 22 14 25M0 17C4 22 7 26 10 28"/>
<path d="M12 -30A18 34 0 0 1 14 27" fill="none" stroke="#000" stroke-width="3.6"/>
</g>
<path class="l L" style="stroke-width:2.83" d="M1045.0 2021.7C1043.8 2022.9 1040.8 2026.7 1037.5 2029.2C1034.2 2031.7 1028.1 2034.6 1025.0 2036.7C1021.9 2038.8 1020.6 2038.1 1019.2 2041.7C1017.8 2045.3 1017.4 2051.4 1016.7 2058.3C1015.9 2065.3 1014.9 2077.6 1014.6 2083.3C1014.3 2089.0 1014.1 2090.0 1015.0 2092.5C1015.9 2095.0 1018.1 2097.1 1020.0 2098.3C1021.9 2099.6 1023.9 2100.0 1026.7 2100.0C1029.4 2100.0 1032.2 2099.9 1036.7 2098.3C1041.1 2096.8 1050.6 2092.1 1053.3 2090.8"/>
<path class="l L" style="stroke-width:2.83" d="M1024.2 2058.3L1029.2 2055.8L1045.0 2055.4L1045.8 2065.0L1035.0 2062.5L1025.8 2060.4Z"/>
<path class="k" d="M1024.2 2058.3L1030.8 2057.5L1045.0 2062.1L1045.8 2065.0L1035.0 2062.5Z"/>
<path class="l L" style="stroke-width:3.07" d="M1035.4 2085.4C1035.8 2084.7 1036.5 2082.3 1037.5 2081.2C1038.5 2080.2 1040.0 2079.4 1041.7 2079.2C1043.3 2078.9 1046.5 2079.5 1047.5 2079.6"/>
</g>
<!-- 80_misc.svg -->
<g id="letters" style="font-size:29px" text-anchor="middle">
<text transform="translate(1617.3 680.3) scale(0.82 1)">A</text>
<text transform="translate(463.8 1845.3) scale(0.8 1)">B</text>
<text transform="translate(1473.3 1860) scale(0.82 1)">A</text>
<text transform="translate(840.6 2147) scale(0.8 1)">B</text>
<text transform="translate(819.6 2237.6) scale(0.82 1)">A</text>
</g>
<g id="oring55a_low">
<ellipse class="l" style="stroke-width:5" cx="1132.9" cy="2287.5" rx="11.2" ry="6.9"/>
<path class="h" d="M1135.4 2250L1133 2288"/>
</g>
<g id="plug66a">
<path d="M1117 2326V2338A15.8 8.75 0 0 0 1113.4 2341A15.8 8.75 0 0 0 1145 2341A15.8 8.75 0 0 0 1142 2338V2326A12.5 8 0 0 0 1117 2326Z" fill="#000" stroke="#000" stroke-width="1.5"/>
<path d="M1123.8 2325L1129.2 2321.7L1137 2325.4L1129.6 2328.8Z" fill="#fff"/>
<path d="M1117.1 2336.7Q1121 2343.5 1129.5 2344.6Q1137.5 2343.5 1140.8 2337" fill="none" stroke="#fff" stroke-width="1"/>
<path d="M1127 2333.3H1129.2M1128 2338.3H1131.7M1124.2 2347.1H1134.2" fill="none" stroke="#fff" stroke-width="0.9"/>
</g>

<path class="t" d="M1040 2099.5L1077 2078.5"/>
</svg>
</body></html>
